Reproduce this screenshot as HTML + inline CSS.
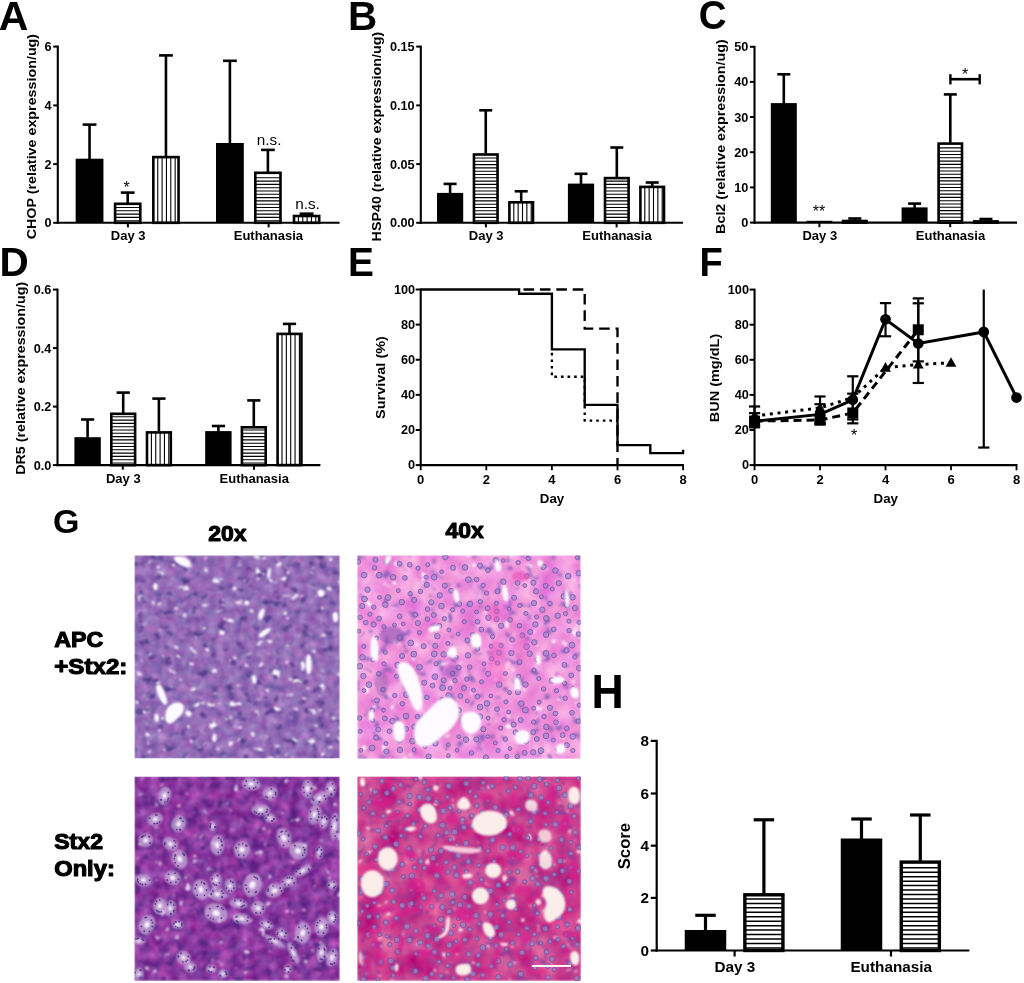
<!DOCTYPE html>
<html lang="en"><head><meta charset="utf-8"><title>Figure</title>
<style>html,body{margin:0;padding:0;background:#fff}body{width:1024px;height:983px;overflow:hidden}svg{display:block;font-family:"Liberation Sans", Arial, Helvetica, sans-serif;fill:#000}</style></head><body>
<svg width="1024" height="983" viewBox="0 0 1024 983">
<rect width="1024" height="983" fill="#fff"/>
<text transform="translate(-1.30,29.50) scale(1.0,1)" font-size="41" font-weight="bold">A</text>
<text transform="translate(347.90,29.70) scale(1.0,1)" font-size="40.5" font-weight="bold">B</text>
<text transform="translate(698.70,29.40) scale(0.94,1)" font-size="41" font-weight="bold">C</text>
<text transform="translate(-0.50,276.00) scale(1.0,1)" font-size="40.5" font-weight="bold">D</text>
<text transform="translate(348.10,276.00) scale(0.96,1)" font-size="40.5" font-weight="bold">E</text>
<text transform="translate(699.40,276.00) scale(0.94,1)" font-size="40.5" font-weight="bold">F</text>
<text transform="translate(53.00,532.60) scale(1.0,1)" font-size="34" font-weight="bold">G</text>
<text transform="translate(591.50,708.00) scale(0.94,1)" font-size="47.5" font-weight="bold">H</text>
<line x1="89.55" y1="159.20" x2="89.55" y2="124.60" stroke="#000" stroke-width="2.6" />
<line x1="82.65" y1="124.60" x2="96.45" y2="124.60" stroke="#000" stroke-width="2.6" />
<line x1="127.70" y1="203.00" x2="127.70" y2="192.60" stroke="#000" stroke-width="2.6" />
<line x1="120.80" y1="192.60" x2="134.60" y2="192.60" stroke="#000" stroke-width="2.6" />
<line x1="165.95" y1="156.30" x2="165.95" y2="55.40" stroke="#000" stroke-width="2.6" />
<line x1="159.05" y1="55.40" x2="172.85" y2="55.40" stroke="#000" stroke-width="2.6" />
<line x1="229.90" y1="143.50" x2="229.90" y2="60.80" stroke="#000" stroke-width="2.6" />
<line x1="223.00" y1="60.80" x2="236.80" y2="60.80" stroke="#000" stroke-width="2.6" />
<line x1="267.90" y1="172.00" x2="267.90" y2="149.90" stroke="#000" stroke-width="2.6" />
<line x1="261.00" y1="149.90" x2="274.80" y2="149.90" stroke="#000" stroke-width="2.6" />
<line x1="306.60" y1="215.20" x2="306.60" y2="213.70" stroke="#000" stroke-width="2.6" />
<line x1="299.70" y1="213.70" x2="313.50" y2="213.70" stroke="#000" stroke-width="2.6" />
<rect x="75.65" y="158.70" width="27.80" height="64.10" fill="#000"/>
<rect x="115.10" y="203.80" width="25.20" height="19.00" fill="#fff" stroke="#000" stroke-width="2.6"/>
<path d="M115.10,220.70H140.30M115.10,217.40H140.30M115.10,214.10H140.30M115.10,210.80H140.30M115.10,207.50H140.30" stroke="#000" stroke-width="1.1" fill="none"/>
<rect x="153.35" y="157.10" width="25.20" height="65.70" fill="#fff" stroke="#000" stroke-width="2.6"/>
<path d="M157.75,157.10V222.80M162.10,157.10V222.80M166.45,157.10V222.80M170.80,157.10V222.80M175.15,157.10V222.80" stroke="#000" stroke-width="1.1" fill="none"/>
<rect x="216.00" y="143.00" width="27.80" height="79.80" fill="#000"/>
<rect x="255.30" y="172.80" width="25.20" height="50.00" fill="#fff" stroke="#000" stroke-width="2.6"/>
<path d="M255.30,220.70H280.50M255.30,217.40H280.50M255.30,214.10H280.50M255.30,210.80H280.50M255.30,207.50H280.50M255.30,204.20H280.50M255.30,200.90H280.50M255.30,197.60H280.50M255.30,194.30H280.50M255.30,191.00H280.50M255.30,187.70H280.50M255.30,184.40H280.50M255.30,181.10H280.50M255.30,177.80H280.50" stroke="#000" stroke-width="1.1" fill="none"/>
<rect x="294.00" y="216.00" width="25.20" height="6.80" fill="#fff" stroke="#000" stroke-width="2.6"/>
<path d="M298.40,216.00V222.80M302.75,216.00V222.80M307.10,216.00V222.80M311.45,216.00V222.80M315.80,216.00V222.80" stroke="#000" stroke-width="1.1" fill="none"/>
<line x1="57.80" y1="45.60" x2="57.80" y2="223.85" stroke="#000" stroke-width="2.1" />
<line x1="56.75" y1="222.80" x2="339.60" y2="222.80" stroke="#000" stroke-width="2.1" />
<line x1="53.20" y1="222.80" x2="57.80" y2="222.80" stroke="#000" stroke-width="2.0" />
<text x="51.60" y="227.37" font-size="12.7" font-weight="bold" text-anchor="end" >0</text>
<line x1="53.20" y1="164.10" x2="57.80" y2="164.10" stroke="#000" stroke-width="2.0" />
<text x="51.60" y="168.67" font-size="12.7" font-weight="bold" text-anchor="end" >2</text>
<line x1="53.20" y1="105.40" x2="57.80" y2="105.40" stroke="#000" stroke-width="2.0" />
<text x="51.60" y="109.97" font-size="12.7" font-weight="bold" text-anchor="end" >4</text>
<line x1="53.20" y1="46.60" x2="57.80" y2="46.60" stroke="#000" stroke-width="2.0" />
<text x="51.60" y="51.17" font-size="12.7" font-weight="bold" text-anchor="end" >6</text>
<line x1="127.90" y1="222.80" x2="127.90" y2="227.40" stroke="#000" stroke-width="2.0" />
<line x1="268.60" y1="222.80" x2="268.60" y2="227.40" stroke="#000" stroke-width="2.0" />
<text x="128.20" y="240.00" font-size="13" font-weight="bold" text-anchor="middle" >Day 3</text>
<text x="268.40" y="240.00" font-size="13" font-weight="bold" text-anchor="middle" >Euthanasia</text>
<text transform="translate(35.80,136.60) rotate(-90) scale(1.06,1)" font-size="13.49" font-weight="bold" text-anchor="middle">CHOP (relative expression/ug)</text>
<text x="126.60" y="192.50" font-size="16" font-weight="normal" text-anchor="middle" >*</text>
<text x="269.20" y="144.50" font-size="15.3" font-weight="normal" text-anchor="middle" >n.s.</text>
<text x="307.50" y="208.70" font-size="15.3" font-weight="normal" text-anchor="middle" >n.s.</text>
<line x1="450.10" y1="193.40" x2="450.10" y2="183.90" stroke="#000" stroke-width="2.6" />
<line x1="443.60" y1="183.90" x2="456.60" y2="183.90" stroke="#000" stroke-width="2.6" />
<line x1="485.75" y1="153.70" x2="485.75" y2="110.30" stroke="#000" stroke-width="2.6" />
<line x1="479.25" y1="110.30" x2="492.25" y2="110.30" stroke="#000" stroke-width="2.6" />
<line x1="521.20" y1="201.50" x2="521.20" y2="191.30" stroke="#000" stroke-width="2.6" />
<line x1="514.70" y1="191.30" x2="527.70" y2="191.30" stroke="#000" stroke-width="2.6" />
<line x1="581.00" y1="184.10" x2="581.00" y2="173.80" stroke="#000" stroke-width="2.6" />
<line x1="574.50" y1="173.80" x2="587.50" y2="173.80" stroke="#000" stroke-width="2.6" />
<line x1="616.80" y1="177.30" x2="616.80" y2="147.50" stroke="#000" stroke-width="2.6" />
<line x1="610.30" y1="147.50" x2="623.30" y2="147.50" stroke="#000" stroke-width="2.6" />
<line x1="652.20" y1="186.10" x2="652.20" y2="182.50" stroke="#000" stroke-width="2.6" />
<line x1="645.70" y1="182.50" x2="658.70" y2="182.50" stroke="#000" stroke-width="2.6" />
<rect x="437.00" y="192.90" width="26.20" height="29.90" fill="#000"/>
<rect x="473.95" y="154.50" width="23.60" height="68.30" fill="#fff" stroke="#000" stroke-width="2.6"/>
<path d="M473.95,220.70H497.55M473.95,217.40H497.55M473.95,214.10H497.55M473.95,210.80H497.55M473.95,207.50H497.55M473.95,204.20H497.55M473.95,200.90H497.55M473.95,197.60H497.55M473.95,194.30H497.55M473.95,191.00H497.55M473.95,187.70H497.55M473.95,184.40H497.55M473.95,181.10H497.55M473.95,177.80H497.55M473.95,174.50H497.55M473.95,171.20H497.55M473.95,167.90H497.55M473.95,164.60H497.55M473.95,161.30H497.55M473.95,158.00H497.55" stroke="#000" stroke-width="1.1" fill="none"/>
<rect x="509.40" y="202.30" width="23.60" height="20.50" fill="#fff" stroke="#000" stroke-width="2.6"/>
<path d="M513.80,202.30V222.80M518.15,202.30V222.80M522.50,202.30V222.80M526.85,202.30V222.80M531.20,202.30V222.80" stroke="#000" stroke-width="1.1" fill="none"/>
<rect x="567.90" y="183.60" width="26.20" height="39.20" fill="#000"/>
<rect x="605.00" y="178.10" width="23.60" height="44.70" fill="#fff" stroke="#000" stroke-width="2.6"/>
<path d="M605.00,220.70H628.60M605.00,217.40H628.60M605.00,214.10H628.60M605.00,210.80H628.60M605.00,207.50H628.60M605.00,204.20H628.60M605.00,200.90H628.60M605.00,197.60H628.60M605.00,194.30H628.60M605.00,191.00H628.60M605.00,187.70H628.60M605.00,184.40H628.60M605.00,181.10H628.60" stroke="#000" stroke-width="1.1" fill="none"/>
<rect x="640.40" y="186.90" width="23.60" height="35.90" fill="#fff" stroke="#000" stroke-width="2.6"/>
<path d="M644.80,186.90V222.80M649.15,186.90V222.80M653.50,186.90V222.80M657.85,186.90V222.80M662.20,186.90V222.80" stroke="#000" stroke-width="1.1" fill="none"/>
<line x1="420.80" y1="45.60" x2="420.80" y2="223.85" stroke="#000" stroke-width="2.1" />
<line x1="419.75" y1="222.80" x2="683.00" y2="222.80" stroke="#000" stroke-width="2.1" />
<line x1="416.20" y1="222.80" x2="420.80" y2="222.80" stroke="#000" stroke-width="2.0" />
<text x="414.60" y="227.37" font-size="12.7" font-weight="bold" text-anchor="end" >0.00</text>
<line x1="416.20" y1="164.10" x2="420.80" y2="164.10" stroke="#000" stroke-width="2.0" />
<text x="414.60" y="168.67" font-size="12.7" font-weight="bold" text-anchor="end" >0.05</text>
<line x1="416.20" y1="105.40" x2="420.80" y2="105.40" stroke="#000" stroke-width="2.0" />
<text x="414.60" y="109.97" font-size="12.7" font-weight="bold" text-anchor="end" >0.10</text>
<line x1="416.20" y1="46.60" x2="420.80" y2="46.60" stroke="#000" stroke-width="2.0" />
<text x="414.60" y="51.17" font-size="12.7" font-weight="bold" text-anchor="end" >0.15</text>
<line x1="485.90" y1="222.80" x2="485.90" y2="227.40" stroke="#000" stroke-width="2.0" />
<line x1="616.60" y1="222.80" x2="616.60" y2="227.40" stroke="#000" stroke-width="2.0" />
<text x="486.20" y="240.00" font-size="13" font-weight="bold" text-anchor="middle" >Day 3</text>
<text x="617.00" y="240.00" font-size="13" font-weight="bold" text-anchor="middle" >Euthanasia</text>
<text transform="translate(381.00,136.60) rotate(-90) scale(1.06,1)" font-size="13.49" font-weight="bold" text-anchor="middle">HSP40 (relative expression/ug)</text>
<line x1="783.80" y1="103.60" x2="783.80" y2="74.30" stroke="#000" stroke-width="2.6" />
<line x1="777.30" y1="74.30" x2="790.30" y2="74.30" stroke="#000" stroke-width="2.6" />
<line x1="854.80" y1="220.20" x2="854.80" y2="218.50" stroke="#000" stroke-width="2.6" />
<line x1="848.30" y1="218.50" x2="861.30" y2="218.50" stroke="#000" stroke-width="2.6" />
<line x1="914.60" y1="207.90" x2="914.60" y2="203.60" stroke="#000" stroke-width="2.6" />
<line x1="908.10" y1="203.60" x2="921.10" y2="203.60" stroke="#000" stroke-width="2.6" />
<line x1="950.30" y1="142.80" x2="950.30" y2="94.40" stroke="#000" stroke-width="2.6" />
<line x1="943.80" y1="94.40" x2="956.80" y2="94.40" stroke="#000" stroke-width="2.6" />
<line x1="985.90" y1="220.60" x2="985.90" y2="219.00" stroke="#000" stroke-width="2.6" />
<line x1="979.40" y1="219.00" x2="992.40" y2="219.00" stroke="#000" stroke-width="2.6" />
<rect x="770.80" y="103.10" width="26.00" height="119.50" fill="#000"/>
<line x1="806.50" y1="221.70" x2="832.50" y2="221.70" stroke="#000" stroke-width="1.8" />
<rect x="843.10" y="221.00" width="23.40" height="1.60" fill="#fff" stroke="#000" stroke-width="2.6"/>
<path d="M847.50,221.00V222.60M851.85,221.00V222.60M856.20,221.00V222.60M860.55,221.00V222.60M864.90,221.00V222.60" stroke="#000" stroke-width="1.1" fill="none"/>
<rect x="901.60" y="207.40" width="26.00" height="15.20" fill="#000"/>
<rect x="938.60" y="143.60" width="23.40" height="79.00" fill="#fff" stroke="#000" stroke-width="2.6"/>
<path d="M938.60,220.50H962.00M938.60,217.20H962.00M938.60,213.90H962.00M938.60,210.60H962.00M938.60,207.30H962.00M938.60,204.00H962.00M938.60,200.70H962.00M938.60,197.40H962.00M938.60,194.10H962.00M938.60,190.80H962.00M938.60,187.50H962.00M938.60,184.20H962.00M938.60,180.90H962.00M938.60,177.60H962.00M938.60,174.30H962.00M938.60,171.00H962.00M938.60,167.70H962.00M938.60,164.40H962.00M938.60,161.10H962.00M938.60,157.80H962.00M938.60,154.50H962.00M938.60,151.20H962.00M938.60,147.90H962.00" stroke="#000" stroke-width="1.1" fill="none"/>
<rect x="974.20" y="221.40" width="23.40" height="1.20" fill="#fff" stroke="#000" stroke-width="2.6"/>
<path d="M978.60,221.40V222.60M982.95,221.40V222.60M987.30,221.40V222.60M991.65,221.40V222.60M996.00,221.40V222.60" stroke="#000" stroke-width="1.1" fill="none"/>
<line x1="754.50" y1="45.80" x2="754.50" y2="223.65" stroke="#000" stroke-width="2.1" />
<line x1="753.45" y1="222.60" x2="1017.00" y2="222.60" stroke="#000" stroke-width="2.1" />
<line x1="749.90" y1="222.60" x2="754.50" y2="222.60" stroke="#000" stroke-width="2.0" />
<text x="748.30" y="227.17" font-size="12.7" font-weight="bold" text-anchor="end" >0</text>
<line x1="749.90" y1="187.40" x2="754.50" y2="187.40" stroke="#000" stroke-width="2.0" />
<text x="748.30" y="191.97" font-size="12.7" font-weight="bold" text-anchor="end" >10</text>
<line x1="749.90" y1="152.20" x2="754.50" y2="152.20" stroke="#000" stroke-width="2.0" />
<text x="748.30" y="156.77" font-size="12.7" font-weight="bold" text-anchor="end" >20</text>
<line x1="749.90" y1="117.00" x2="754.50" y2="117.00" stroke="#000" stroke-width="2.0" />
<text x="748.30" y="121.57" font-size="12.7" font-weight="bold" text-anchor="end" >30</text>
<line x1="749.90" y1="81.90" x2="754.50" y2="81.90" stroke="#000" stroke-width="2.0" />
<text x="748.30" y="86.47" font-size="12.7" font-weight="bold" text-anchor="end" >40</text>
<line x1="749.90" y1="46.80" x2="754.50" y2="46.80" stroke="#000" stroke-width="2.0" />
<text x="748.30" y="51.37" font-size="12.7" font-weight="bold" text-anchor="end" >50</text>
<line x1="819.40" y1="222.60" x2="819.40" y2="227.20" stroke="#000" stroke-width="2.0" />
<line x1="950.20" y1="222.60" x2="950.20" y2="227.20" stroke="#000" stroke-width="2.0" />
<text x="819.80" y="240.00" font-size="13" font-weight="bold" text-anchor="middle" >Day 3</text>
<text x="950.50" y="240.00" font-size="13" font-weight="bold" text-anchor="middle" >Euthanasia</text>
<text transform="translate(725.00,136.60) rotate(-90) scale(1.06,1)" font-size="13.49" font-weight="bold" text-anchor="middle">Bcl2 (relative expression/ug)</text>
<text x="819.00" y="216.50" font-size="16" font-weight="normal" text-anchor="middle" >**</text>
<line x1="950.40" y1="79.20" x2="979.70" y2="79.20" stroke="#000" stroke-width="2.6" />
<line x1="950.40" y1="74.20" x2="950.40" y2="84.40" stroke="#000" stroke-width="2.4" />
<line x1="979.70" y1="74.20" x2="979.70" y2="84.40" stroke="#000" stroke-width="2.4" />
<text x="965.00" y="79.50" font-size="16" font-weight="normal" text-anchor="middle" >*</text>
<line x1="87.60" y1="437.70" x2="87.60" y2="419.50" stroke="#000" stroke-width="2.6" />
<line x1="81.00" y1="419.50" x2="94.20" y2="419.50" stroke="#000" stroke-width="2.6" />
<line x1="123.20" y1="413.00" x2="123.20" y2="392.60" stroke="#000" stroke-width="2.6" />
<line x1="116.60" y1="392.60" x2="129.80" y2="392.60" stroke="#000" stroke-width="2.6" />
<line x1="158.90" y1="431.60" x2="158.90" y2="398.60" stroke="#000" stroke-width="2.6" />
<line x1="152.30" y1="398.60" x2="165.50" y2="398.60" stroke="#000" stroke-width="2.6" />
<line x1="218.40" y1="431.60" x2="218.40" y2="426.00" stroke="#000" stroke-width="2.6" />
<line x1="211.80" y1="426.00" x2="225.00" y2="426.00" stroke="#000" stroke-width="2.6" />
<line x1="253.80" y1="426.50" x2="253.80" y2="400.40" stroke="#000" stroke-width="2.6" />
<line x1="247.20" y1="400.40" x2="260.40" y2="400.40" stroke="#000" stroke-width="2.6" />
<line x1="289.50" y1="333.10" x2="289.50" y2="323.90" stroke="#000" stroke-width="2.6" />
<line x1="282.90" y1="323.90" x2="296.10" y2="323.90" stroke="#000" stroke-width="2.6" />
<rect x="74.40" y="437.20" width="26.40" height="27.90" fill="#000"/>
<rect x="111.30" y="413.80" width="23.80" height="51.30" fill="#fff" stroke="#000" stroke-width="2.6"/>
<path d="M111.30,463.00H135.10M111.30,459.70H135.10M111.30,456.40H135.10M111.30,453.10H135.10M111.30,449.80H135.10M111.30,446.50H135.10M111.30,443.20H135.10M111.30,439.90H135.10M111.30,436.60H135.10M111.30,433.30H135.10M111.30,430.00H135.10M111.30,426.70H135.10M111.30,423.40H135.10M111.30,420.10H135.10M111.30,416.80H135.10" stroke="#000" stroke-width="1.1" fill="none"/>
<rect x="147.00" y="432.40" width="23.80" height="32.70" fill="#fff" stroke="#000" stroke-width="2.6"/>
<path d="M151.40,432.40V465.10M155.75,432.40V465.10M160.10,432.40V465.10M164.45,432.40V465.10M168.80,432.40V465.10" stroke="#000" stroke-width="1.1" fill="none"/>
<rect x="205.20" y="431.10" width="26.40" height="34.00" fill="#000"/>
<rect x="241.90" y="427.30" width="23.80" height="37.80" fill="#fff" stroke="#000" stroke-width="2.6"/>
<path d="M241.90,463.00H265.70M241.90,459.70H265.70M241.90,456.40H265.70M241.90,453.10H265.70M241.90,449.80H265.70M241.90,446.50H265.70M241.90,443.20H265.70M241.90,439.90H265.70M241.90,436.60H265.70M241.90,433.30H265.70M241.90,430.00H265.70" stroke="#000" stroke-width="1.1" fill="none"/>
<rect x="277.60" y="333.90" width="23.80" height="131.20" fill="#fff" stroke="#000" stroke-width="2.6"/>
<path d="M282.00,333.90V465.10M286.35,333.90V465.10M290.70,333.90V465.10M295.05,333.90V465.10M299.40,333.90V465.10" stroke="#000" stroke-width="1.1" fill="none"/>
<line x1="57.50" y1="288.60" x2="57.50" y2="466.15" stroke="#000" stroke-width="2.1" />
<line x1="56.45" y1="465.10" x2="320.40" y2="465.10" stroke="#000" stroke-width="2.1" />
<line x1="52.90" y1="465.10" x2="57.50" y2="465.10" stroke="#000" stroke-width="2.0" />
<text x="51.30" y="469.67" font-size="12.7" font-weight="bold" text-anchor="end" >0.0</text>
<line x1="52.90" y1="406.60" x2="57.50" y2="406.60" stroke="#000" stroke-width="2.0" />
<text x="51.30" y="411.17" font-size="12.7" font-weight="bold" text-anchor="end" >0.2</text>
<line x1="52.90" y1="348.10" x2="57.50" y2="348.10" stroke="#000" stroke-width="2.0" />
<text x="51.30" y="352.67" font-size="12.7" font-weight="bold" text-anchor="end" >0.4</text>
<line x1="52.90" y1="289.60" x2="57.50" y2="289.60" stroke="#000" stroke-width="2.0" />
<text x="51.30" y="294.17" font-size="12.7" font-weight="bold" text-anchor="end" >0.6</text>
<line x1="122.80" y1="465.10" x2="122.80" y2="469.70" stroke="#000" stroke-width="2.0" />
<line x1="254.00" y1="465.10" x2="254.00" y2="469.70" stroke="#000" stroke-width="2.0" />
<text x="123.30" y="482.60" font-size="13" font-weight="bold" text-anchor="middle" >Day 3</text>
<text x="254.20" y="482.60" font-size="13" font-weight="bold" text-anchor="middle" >Euthanasia</text>
<text transform="translate(25.00,378.30) rotate(-90) scale(1.06,1)" font-size="13.49" font-weight="bold" text-anchor="middle">DR5 (relative expression/ug)</text>
<path d="M551.90,349.20 L551.90,376.77 L584.70,376.77 L584.70,420.67 L617.50,420.67" fill="none" stroke="#000" stroke-width="2.35" stroke-dasharray="2.6 4.0" stroke-dashoffset="3"/>
<path d="M519.10,289.50 L584.70,289.50 L584.70,328.66 L617.50,328.66 L617.50,465.10" fill="none" stroke="#000" stroke-width="2.35" stroke-dasharray="10.6 5.8" stroke-dashoffset="12"/>
<path d="M420.70,289.50 L519.10,289.50 L519.10,293.71 L551.90,293.71 L551.90,349.38 L584.70,349.38 L584.70,404.87 L617.50,404.87 L617.50,445.08 L650.30,445.08 L650.30,453.16 L683.10,453.16 L683.10,449.65" fill="none" stroke="#000" stroke-width="2.35" stroke-linejoin="miter"/>
<line x1="420.70" y1="288.60" x2="420.70" y2="466.15" stroke="#000" stroke-width="2.1" />
<line x1="419.65" y1="465.10" x2="684.00" y2="465.10" stroke="#000" stroke-width="2.1" />
<line x1="415.70" y1="465.10" x2="420.70" y2="465.10" stroke="#000" stroke-width="2.0" />
<text x="415.10" y="469.40" font-size="12.7" font-weight="bold" text-anchor="end" >0</text>
<line x1="415.70" y1="429.98" x2="420.70" y2="429.98" stroke="#000" stroke-width="2.0" />
<text x="415.10" y="434.28" font-size="12.7" font-weight="bold" text-anchor="end" >20</text>
<line x1="415.70" y1="394.86" x2="420.70" y2="394.86" stroke="#000" stroke-width="2.0" />
<text x="415.10" y="399.16" font-size="12.7" font-weight="bold" text-anchor="end" >40</text>
<line x1="415.70" y1="359.74" x2="420.70" y2="359.74" stroke="#000" stroke-width="2.0" />
<text x="415.10" y="364.04" font-size="12.7" font-weight="bold" text-anchor="end" >60</text>
<line x1="415.70" y1="324.62" x2="420.70" y2="324.62" stroke="#000" stroke-width="2.0" />
<text x="415.10" y="328.92" font-size="12.7" font-weight="bold" text-anchor="end" >80</text>
<line x1="415.70" y1="289.50" x2="420.70" y2="289.50" stroke="#000" stroke-width="2.0" />
<text x="415.10" y="293.80" font-size="12.7" font-weight="bold" text-anchor="end" >100</text>
<line x1="420.70" y1="465.10" x2="420.70" y2="470.30" stroke="#000" stroke-width="1.8" />
<text x="420.70" y="483.80" font-size="13" font-weight="bold" text-anchor="middle" >0</text>
<line x1="486.30" y1="465.10" x2="486.30" y2="470.30" stroke="#000" stroke-width="1.8" />
<text x="486.30" y="483.80" font-size="13" font-weight="bold" text-anchor="middle" >2</text>
<line x1="551.90" y1="465.10" x2="551.90" y2="470.30" stroke="#000" stroke-width="1.8" />
<text x="551.90" y="483.80" font-size="13" font-weight="bold" text-anchor="middle" >4</text>
<line x1="617.50" y1="465.10" x2="617.50" y2="470.30" stroke="#000" stroke-width="1.8" />
<text x="617.50" y="483.80" font-size="13" font-weight="bold" text-anchor="middle" >6</text>
<line x1="683.10" y1="465.10" x2="683.10" y2="470.30" stroke="#000" stroke-width="1.8" />
<text x="683.10" y="483.80" font-size="13" font-weight="bold" text-anchor="middle" >8</text>
<text x="552.00" y="503.20" font-size="13.3" font-weight="bold" text-anchor="middle" >Day</text>
<text transform="translate(384.70,377.50) rotate(-90) scale(1.06,1)" font-size="13.68" font-weight="bold" text-anchor="middle">Survival (%)</text>
<line x1="754.55" y1="427.37" x2="754.55" y2="406.48" stroke="#000" stroke-width="2.2" />
<line x1="748.95" y1="427.37" x2="760.15" y2="427.37" stroke="#000" stroke-width="2.2" />
<line x1="748.95" y1="406.48" x2="760.15" y2="406.48" stroke="#000" stroke-width="2.2" />
<line x1="754.55" y1="425.61" x2="754.55" y2="413.15" stroke="#000" stroke-width="2.2" />
<line x1="748.95" y1="425.61" x2="760.15" y2="425.61" stroke="#000" stroke-width="2.2" />
<line x1="748.95" y1="413.15" x2="760.15" y2="413.15" stroke="#000" stroke-width="2.2" />
<line x1="820.04" y1="424.38" x2="820.04" y2="396.48" stroke="#000" stroke-width="2.2" />
<line x1="814.44" y1="424.38" x2="825.64" y2="424.38" stroke="#000" stroke-width="2.2" />
<line x1="814.44" y1="396.48" x2="825.64" y2="396.48" stroke="#000" stroke-width="2.2" />
<line x1="820.04" y1="422.98" x2="820.04" y2="404.20" stroke="#000" stroke-width="2.2" />
<line x1="814.44" y1="422.98" x2="825.64" y2="422.98" stroke="#000" stroke-width="2.2" />
<line x1="814.44" y1="404.20" x2="825.64" y2="404.20" stroke="#000" stroke-width="2.2" />
<line x1="852.78" y1="423.33" x2="852.78" y2="376.30" stroke="#000" stroke-width="2.2" />
<line x1="847.18" y1="423.33" x2="858.38" y2="423.33" stroke="#000" stroke-width="2.2" />
<line x1="847.18" y1="376.30" x2="858.38" y2="376.30" stroke="#000" stroke-width="2.2" />
<line x1="852.78" y1="419.47" x2="852.78" y2="393.67" stroke="#000" stroke-width="2.2" />
<line x1="847.18" y1="419.47" x2="858.38" y2="419.47" stroke="#000" stroke-width="2.2" />
<line x1="847.18" y1="393.67" x2="858.38" y2="393.67" stroke="#000" stroke-width="2.2" />
<line x1="885.52" y1="336.28" x2="885.52" y2="303.11" stroke="#000" stroke-width="2.2" />
<line x1="879.92" y1="336.28" x2="891.12" y2="336.28" stroke="#000" stroke-width="2.2" />
<line x1="879.92" y1="303.11" x2="891.12" y2="303.11" stroke="#000" stroke-width="2.2" />
<line x1="918.27" y1="361.38" x2="918.27" y2="298.38" stroke="#000" stroke-width="2.2" />
<line x1="912.67" y1="361.38" x2="923.87" y2="361.38" stroke="#000" stroke-width="2.2" />
<line x1="912.67" y1="298.38" x2="923.87" y2="298.38" stroke="#000" stroke-width="2.2" />
<line x1="918.27" y1="382.97" x2="918.27" y2="303.29" stroke="#000" stroke-width="2.2" />
<line x1="912.67" y1="382.97" x2="923.87" y2="382.97" stroke="#000" stroke-width="2.2" />
<line x1="912.67" y1="303.29" x2="923.87" y2="303.29" stroke="#000" stroke-width="2.2" />
<line x1="983.76" y1="447.55" x2="983.76" y2="289.60" stroke="#000" stroke-width="2.2" />
<line x1="978.16" y1="447.55" x2="989.36" y2="447.55" stroke="#000" stroke-width="2.2" />
<path d="M754.55,415.96 L820.04,407.89 L852.78,397.53 L885.52,367.70 L918.27,364.54 L951.01,362.78" fill="none" stroke="#000" stroke-width="3.0" stroke-dasharray="3 4.7"/>
<path d="M754.55,421.05 L820.04,420.00 L852.78,412.98 L918.27,329.79" fill="none" stroke="#000" stroke-width="3.0" stroke-dasharray="8 5"/>
<path d="M754.55,421.23 L820.04,414.38 L852.78,399.81 L885.52,319.26 L918.27,343.48 L983.76,331.90 L1016.50,397.53" fill="none" stroke="#000" stroke-width="3.0"/>
<path d="M754.55,410.36 L759.95,419.96 L749.15,419.96Z" fill="#000"/>
<path d="M820.04,402.29 L825.44,411.89 L814.64,411.89Z" fill="#000"/>
<path d="M852.78,391.93 L858.18,401.53 L847.38,401.53Z" fill="#000"/>
<path d="M885.52,362.10 L890.92,371.70 L880.12,371.70Z" fill="#000"/>
<path d="M918.27,358.94 L923.67,368.54 L912.87,368.54Z" fill="#000"/>
<path d="M951.01,357.18 L956.41,366.78 L945.61,366.78Z" fill="#000"/>
<rect x="749.05" y="415.55" width="11" height="11" fill="#000"/>
<rect x="814.54" y="414.50" width="11" height="11" fill="#000"/>
<rect x="847.28" y="407.48" width="11" height="11" fill="#000"/>
<rect x="912.77" y="324.29" width="11" height="11" fill="#000"/>
<circle cx="754.55" cy="421.23" r="5.35" fill="#000"/>
<circle cx="820.04" cy="414.38" r="5.35" fill="#000"/>
<circle cx="852.78" cy="399.81" r="5.35" fill="#000"/>
<circle cx="885.52" cy="319.26" r="5.35" fill="#000"/>
<circle cx="918.27" cy="343.48" r="5.35" fill="#000"/>
<circle cx="983.76" cy="331.90" r="5.35" fill="#000"/>
<circle cx="1016.50" cy="397.53" r="5.35" fill="#000"/>
<line x1="754.55" y1="288.70" x2="754.55" y2="466.15" stroke="#000" stroke-width="2.1" />
<line x1="753.50" y1="465.10" x2="1017.40" y2="465.10" stroke="#000" stroke-width="2.1" />
<line x1="749.55" y1="465.10" x2="754.55" y2="465.10" stroke="#000" stroke-width="2.0" />
<text x="748.95" y="469.40" font-size="12.7" font-weight="bold" text-anchor="end" >0</text>
<line x1="749.55" y1="430.00" x2="754.55" y2="430.00" stroke="#000" stroke-width="2.0" />
<text x="748.95" y="434.30" font-size="12.7" font-weight="bold" text-anchor="end" >20</text>
<line x1="749.55" y1="394.90" x2="754.55" y2="394.90" stroke="#000" stroke-width="2.0" />
<text x="748.95" y="399.20" font-size="12.7" font-weight="bold" text-anchor="end" >40</text>
<line x1="749.55" y1="359.80" x2="754.55" y2="359.80" stroke="#000" stroke-width="2.0" />
<text x="748.95" y="364.10" font-size="12.7" font-weight="bold" text-anchor="end" >60</text>
<line x1="749.55" y1="324.70" x2="754.55" y2="324.70" stroke="#000" stroke-width="2.0" />
<text x="748.95" y="329.00" font-size="12.7" font-weight="bold" text-anchor="end" >80</text>
<line x1="749.55" y1="289.60" x2="754.55" y2="289.60" stroke="#000" stroke-width="2.0" />
<text x="748.95" y="293.90" font-size="12.7" font-weight="bold" text-anchor="end" >100</text>
<line x1="754.55" y1="465.10" x2="754.55" y2="470.30" stroke="#000" stroke-width="1.8" />
<text x="754.55" y="484.20" font-size="13" font-weight="bold" text-anchor="middle" >0</text>
<line x1="820.04" y1="465.10" x2="820.04" y2="470.30" stroke="#000" stroke-width="1.8" />
<text x="820.04" y="484.20" font-size="13" font-weight="bold" text-anchor="middle" >2</text>
<line x1="885.52" y1="465.10" x2="885.52" y2="470.30" stroke="#000" stroke-width="1.8" />
<text x="885.52" y="484.20" font-size="13" font-weight="bold" text-anchor="middle" >4</text>
<line x1="951.01" y1="465.10" x2="951.01" y2="470.30" stroke="#000" stroke-width="1.8" />
<text x="951.01" y="484.20" font-size="13" font-weight="bold" text-anchor="middle" >6</text>
<line x1="1016.50" y1="465.10" x2="1016.50" y2="470.30" stroke="#000" stroke-width="1.8" />
<text x="1016.50" y="484.20" font-size="13" font-weight="bold" text-anchor="middle" >8</text>
<text x="885.80" y="502.50" font-size="13.3" font-weight="bold" text-anchor="middle" >Day</text>
<text transform="translate(718.50,378.00) rotate(-90) scale(1.06,1)" font-size="13.68" font-weight="bold" text-anchor="middle">BUN (mg/dL)</text>
<text x="854.00" y="440.60" font-size="16" font-weight="normal" text-anchor="middle" >*</text>
<defs>
<filter id="t1" x="0" y="0" width="1" height="1" color-interpolation-filters="sRGB"><feTurbulence type="fractalNoise" baseFrequency="0.12" numOctaves="3" seed="3" result="n1"/><feColorMatrix in="n1" type="matrix" values="0.314 0.196 0 0 0.333 0.353 -0.039 0 0 0.275 0.235 0.039 0 0 0.584 0 0 0 0 1" result="b"/><feTurbulence type="fractalNoise" baseFrequency="0.11 0.13" numOctaves="2" seed="14" result="n2"/><feColorMatrix in="n2" type="matrix" values="0 0 0 0 0.329 0 0 0 0 0.235 0 0 0 0 0.549 6 0 0 0 -3.540" result="d"/><feColorMatrix in="n2" type="matrix" values="0 0 0 0 0.980 0 0 0 0 0.965 0 0 0 0 0.988 0 12 0 0 -8.100" result="w"/><feMerge result="m"><feMergeNode in="b"/><feMergeNode in="d"/><feMergeNode in="w"/></feMerge><feGaussianBlur in="m" stdDeviation="0.9" result="m"/><feComposite in="m" in2="SourceGraphic" operator="in"/></filter>
<filter id="t2" x="0" y="0" width="1" height="1" color-interpolation-filters="sRGB"><feTurbulence type="fractalNoise" baseFrequency="0.05" numOctaves="3" seed="8" result="n1"/><feColorMatrix in="n1" type="matrix" values="0.118 0.078 0 0 0.847 0.392 0.196 0 0 0.294 0.157 -0.039 0 0 0.808 0 0 0 0 1" result="b"/><feTurbulence type="fractalNoise" baseFrequency="0.105" numOctaves="2" seed="19" result="n2"/><feColorMatrix in="n2" type="matrix" values="0 0 0 0 0.588 0 0 0 0 0.392 0 0 0 0 0.745 6 0 0 0 -3.660" result="d"/><feColorMatrix in="n2" type="matrix" values="0 0 0 0 1.000 0 0 0 0 0.980 0 0 0 0 1.000 0 10 0 0 -7.000" result="w"/><feMerge result="m"><feMergeNode in="b"/><feMergeNode in="d"/><feMergeNode in="w"/></feMerge><feGaussianBlur in="m" stdDeviation="1.0" result="m"/><feComposite in="m" in2="SourceGraphic" operator="in"/></filter>
<filter id="t3" x="0" y="0" width="1" height="1" color-interpolation-filters="sRGB"><feTurbulence type="fractalNoise" baseFrequency="0.10" numOctaves="3" seed="5" result="n1"/><feColorMatrix in="n1" type="matrix" values="0.471 0.275 0 0 0.169 0.392 -0.039 0 0 0.051 0.353 0.039 0 0 0.431 0 0 0 0 1" result="b"/><feTurbulence type="fractalNoise" baseFrequency="0.12" numOctaves="2" seed="16" result="n2"/><feColorMatrix in="n2" type="matrix" values="0 0 0 0 0.337 0 0 0 0 0.149 0 0 0 0 0.510 6 0 0 0 -3.600" result="d"/><feColorMatrix in="n2" type="matrix" values="0 0 0 0 0.922 0 0 0 0 0.843 0 0 0 0 0.941 0 10 0 0 -7.000" result="w"/><feMerge result="m"><feMergeNode in="b"/><feMergeNode in="d"/><feMergeNode in="w"/></feMerge><feGaussianBlur in="m" stdDeviation="0.9" result="m"/><feComposite in="m" in2="SourceGraphic" operator="in"/></filter>
<filter id="t4" x="0" y="0" width="1" height="1" color-interpolation-filters="sRGB"><feTurbulence type="fractalNoise" baseFrequency="0.045" numOctaves="3" seed="12" result="n1"/><feColorMatrix in="n1" type="matrix" values="0.314 -0.078 0 0 0.678 0.510 0.314 0 0 -0.169 0.235 0.118 0 0 0.380 0 0 0 0 1" result="b"/><feTurbulence type="fractalNoise" baseFrequency="0.12" numOctaves="2" seed="23" result="n2"/><feColorMatrix in="n2" type="matrix" values="0 0 0 0 0.588 0 0 0 0 0.235 0 0 0 0 0.588 6 0 0 0 -3.600" result="d"/><feColorMatrix in="n2" type="matrix" values="0 0 0 0 1.000 0 0 0 0 0.922 0 0 0 0 0.922 0 10 0 0 -7.200" result="w"/><feMerge result="m"><feMergeNode in="b"/><feMergeNode in="d"/><feMergeNode in="w"/></feMerge><feGaussianBlur in="m" stdDeviation="1.0" result="m"/><feComposite in="m" in2="SourceGraphic" operator="in"/></filter>
<filter id="soft0" x="0" y="0" width="1" height="1"><feGaussianBlur stdDeviation="0.7"/></filter>
<filter id="soft" x="-0.2" y="-0.2" width="1.4" height="1.4"><feGaussianBlur stdDeviation="0.9"/></filter>
<filter id="soft2" x="-0.2" y="-0.2" width="1.4" height="1.4"><feGaussianBlur stdDeviation="1.6"/></filter>
<clipPath id="c1"><rect x="134.5" y="555.3" width="205.30" height="203.10"/></clipPath>
<clipPath id="c2"><rect x="357.2" y="555.3" width="223.50" height="203.60"/></clipPath>
<clipPath id="c3"><rect x="134.5" y="776.6" width="205.30" height="204.40"/></clipPath>
<clipPath id="c4"><rect x="357.2" y="776.5" width="223.80" height="204.50"/></clipPath>
</defs>
<rect x="134.5" y="555.3" width="205.30" height="203.10" fill="#888" filter="url(#t1)"/>
<rect x="357.2" y="555.3" width="223.50" height="203.60" fill="#888" filter="url(#t2)"/>
<rect x="134.5" y="776.6" width="205.30" height="204.40" fill="#888" filter="url(#t3)"/>
<rect x="357.2" y="776.5" width="223.80" height="204.50" fill="#888" filter="url(#t4)"/>
<g clip-path="url(#c1)" filter="url(#soft)">
<path d="M173.9,559.0Q172.7,556.4 178.0,556.2Q183.3,555.9 187.4,559.1Q191.5,562.3 190.9,565.2Q190.3,568.1 186.2,567.2Q182.1,566.2 178.6,563.9Q175.1,561.6 173.9,559.0Z" fill="#fdfbff" />
<path d="M156.3,690.0Q155.2,685.3 158.1,684.7Q161.0,684.1 163.4,689.4Q165.7,694.7 166.9,699.4Q168.0,704.0 165.7,704.6Q163.4,705.2 160.4,699.9Q157.5,694.7 156.3,690.0Z" fill="#fdfbff" />
<path d="M165.1,714.6Q165.7,708.7 169.8,705.2Q173.9,701.7 178.6,702.3Q183.3,702.9 183.9,707.0Q184.4,711.1 181.5,714.6Q178.6,718.1 174.5,721.6Q170.4,725.1 167.5,722.8Q164.5,720.5 165.1,714.6Z" fill="#fdfbff" />
<path d="M185.9,713.1Q185.6,709.9 188.5,710.5Q191.5,711.1 191.5,714.0Q191.5,716.9 188.8,716.6Q186.1,716.2 185.9,713.1Z" fill="#fdfbff" />
<path d="M154.3,718.5Q154.0,714.6 156.3,714.0Q158.7,713.4 159.0,717.5Q159.4,721.6 157.0,722.0Q154.7,722.3 154.3,718.5Z" fill="#fdfbff" />
<path d="M153.2,586.9Q152.8,583.4 155.2,583.0Q157.5,582.7 157.8,586.2Q158.2,589.7 155.9,590.0Q153.5,590.4 153.2,586.9Z" fill="#fdfbff" />
<path d="M258.6,613.8Q259.4,610.3 262.4,609.1Q265.3,608.0 264.7,611.5Q264.1,615.0 262.4,617.9Q260.6,620.9 259.2,619.1Q257.8,617.3 258.6,613.8Z" fill="#fdfbff" />
<path d="M305.7,660.7Q306.3,654.8 308.7,654.2Q311.0,653.7 311.6,662.5Q312.2,671.2 309.8,673.6Q307.5,675.9 306.3,671.2Q305.1,666.6 305.7,660.7Z" fill="#fdfbff" />
<path d="M251.8,680.0Q251.2,675.9 253.6,675.3Q255.9,674.8 256.5,678.9Q257.1,683.0 254.8,683.5Q252.4,684.1 251.8,680.0Z" fill="#fdfbff" />
<path d="M332.7,617.6Q332.1,612.7 335.0,612.1Q338.0,611.5 338.2,616.8Q338.4,622.0 335.8,622.3Q333.3,622.5 332.7,617.6Z" fill="#fdfbff" />
<path d="M267.4,573.4Q267.6,568.1 269.4,567.9Q271.2,567.7 270.6,573.7Q270.0,579.8 268.6,579.3Q267.2,578.7 267.4,573.4Z" fill="#fdfbff" />
<path d="M212.2,738.3Q212.6,734.5 214.3,733.9Q216.1,733.3 216.3,737.4Q216.6,741.5 214.2,741.8Q211.9,742.0 212.2,738.3Z" fill="#fdfbff" />
<path d="M244.0,602.1Q244.2,599.8 247.1,600.6Q250.1,601.4 249.5,603.7Q248.9,606.1 246.3,605.3Q243.7,604.4 244.0,602.1Z" fill="#fdfbff" />
<path d="M258.9,636.7Q257.1,633.7 263.5,630.2Q270.0,626.7 270.6,628.5Q271.2,630.2 265.9,634.9Q260.6,639.6 258.9,636.7Z" fill="#fdfbff" />
<path d="M317.4,593.9Q316.9,590.4 320.4,589.8Q323.9,589.2 324.5,592.7Q325.1,596.2 321.5,596.8Q318.0,597.4 317.4,593.9Z" fill="#fdfbff" />
<ellipse cx="292.3" cy="719.3" rx="7.0" ry="9.0" fill="#6d4aa6" opacity="0.55"/>
<ellipse cx="239.5" cy="563.4" rx="8.0" ry="6.0" fill="#6d4aa6" opacity="0.5"/>
<ellipse cx="155.2" cy="666.6" rx="6.0" ry="7.0" fill="#6d4aa6" opacity="0.45"/>
</g>
<g clip-path="url(#c2)" fill="#a88bcf" stroke="#7150a8" stroke-width="0.9" opacity="0.85" filter="url(#soft0)"><circle cx="394.7" cy="695.4" r="2.2"/><circle cx="498.9" cy="652.9" r="2.5"/><circle cx="406.0" cy="716.1" r="2.8"/><circle cx="537.1" cy="659.6" r="2.3"/><circle cx="470.1" cy="603.9" r="2.7"/><circle cx="358.9" cy="631.1" r="2.0"/><circle cx="487.9" cy="570.3" r="2.4"/><circle cx="534.0" cy="603.1" r="2.7"/><circle cx="409.7" cy="564.8" r="2.4"/><circle cx="579.2" cy="705.2" r="2.1"/><circle cx="552.0" cy="680.5" r="2.8"/><circle cx="365.7" cy="622.6" r="2.3"/><circle cx="468.4" cy="579.6" r="2.9"/><circle cx="569.1" cy="630.6" r="2.2"/><circle cx="392.5" cy="721.1" r="2.8"/><circle cx="385.9" cy="743.4" r="2.0"/><circle cx="458.6" cy="667.6" r="2.6"/><circle cx="434.2" cy="654.0" r="2.9"/><circle cx="399.6" cy="563.8" r="2.5"/><circle cx="550.0" cy="603.6" r="2.3"/><circle cx="572.8" cy="736.5" r="2.9"/><circle cx="525.4" cy="710.1" r="2.9"/><circle cx="486.8" cy="703.4" r="2.8"/><circle cx="385.3" cy="652.3" r="2.1"/><circle cx="541.4" cy="596.8" r="2.0"/><circle cx="562.7" cy="735.2" r="2.5"/><circle cx="448.9" cy="629.9" r="2.0"/><circle cx="458.2" cy="634.1" r="1.9"/><circle cx="578.6" cy="634.2" r="2.5"/><circle cx="364.1" cy="575.1" r="2.9"/><circle cx="517.3" cy="756.5" r="2.2"/><circle cx="468.1" cy="655.4" r="2.8"/><circle cx="480.1" cy="707.1" r="2.9"/><circle cx="407.4" cy="679.1" r="2.9"/><circle cx="481.5" cy="681.8" r="2.0"/><circle cx="398.2" cy="590.6" r="2.0"/><circle cx="435.3" cy="743.2" r="2.9"/><circle cx="435.0" cy="676.7" r="2.9"/><circle cx="426.1" cy="577.1" r="2.1"/><circle cx="372.7" cy="720.3" r="2.1"/><circle cx="530.3" cy="631.9" r="2.6"/><circle cx="509.6" cy="692.6" r="2.0"/><circle cx="557.3" cy="749.5" r="2.0"/><circle cx="448.4" cy="755.7" r="2.0"/><circle cx="571.2" cy="675.3" r="2.5"/><circle cx="553.8" cy="655.3" r="2.3"/><circle cx="441.4" cy="606.1" r="2.8"/><circle cx="552.3" cy="589.0" r="2.0"/><circle cx="529.6" cy="653.7" r="2.8"/><circle cx="543.6" cy="566.8" r="2.7"/><circle cx="415.3" cy="614.7" r="2.3"/><circle cx="451.1" cy="590.7" r="2.5"/><circle cx="373.6" cy="624.5" r="2.6"/><circle cx="414.1" cy="749.6" r="2.0"/><circle cx="364.5" cy="599.1" r="2.9"/><circle cx="543.9" cy="716.6" r="2.3"/><circle cx="452.6" cy="673.5" r="2.4"/><circle cx="546.3" cy="618.4" r="2.8"/><circle cx="476.6" cy="611.9" r="1.9"/><circle cx="528.4" cy="558.4" r="2.2"/><circle cx="510.0" cy="748.6" r="1.9"/><circle cx="363.4" cy="676.0" r="2.7"/><circle cx="500.8" cy="728.0" r="2.1"/><circle cx="487.6" cy="608.2" r="2.6"/><circle cx="558.8" cy="583.2" r="2.6"/><circle cx="379.2" cy="575.2" r="2.9"/><circle cx="363.8" cy="646.4" r="2.1"/><circle cx="389.4" cy="731.2" r="2.3"/><circle cx="503.4" cy="581.8" r="2.7"/><circle cx="477.5" cy="621.7" r="2.4"/><circle cx="441.9" cy="699.4" r="2.1"/><circle cx="480.0" cy="565.6" r="2.6"/><circle cx="515.7" cy="732.5" r="2.7"/><circle cx="372.3" cy="710.3" r="2.4"/><circle cx="414.2" cy="696.8" r="2.3"/><circle cx="427.7" cy="564.7" r="2.0"/><circle cx="444.3" cy="618.7" r="2.3"/><circle cx="557.7" cy="615.8" r="2.8"/><circle cx="469.6" cy="667.0" r="2.3"/><circle cx="568.2" cy="576.2" r="2.9"/><circle cx="491.4" cy="658.8" r="2.3"/><circle cx="426.9" cy="697.3" r="2.4"/><circle cx="428.7" cy="756.5" r="2.7"/><circle cx="526.5" cy="646.6" r="2.9"/><circle cx="495.8" cy="560.3" r="2.8"/><circle cx="501.0" cy="645.5" r="2.3"/><circle cx="472.8" cy="634.8" r="2.4"/><circle cx="539.2" cy="702.2" r="2.0"/><circle cx="459.2" cy="604.0" r="2.5"/><circle cx="443.6" cy="654.4" r="2.8"/><circle cx="498.1" cy="750.5" r="2.1"/><circle cx="377.1" cy="653.0" r="2.2"/><circle cx="467.2" cy="700.9" r="1.9"/><circle cx="555.4" cy="713.5" r="2.4"/><circle cx="497.0" cy="709.2" r="2.4"/><circle cx="412.5" cy="741.1" r="2.9"/><circle cx="443.7" cy="680.2" r="2.6"/><circle cx="540.9" cy="750.6" r="2.9"/><circle cx="577.3" cy="557.6" r="2.1"/><circle cx="427.4" cy="619.1" r="2.3"/><circle cx="444.9" cy="585.6" r="2.6"/><circle cx="425.2" cy="746.5" r="2.0"/><circle cx="514.1" cy="597.8" r="2.5"/><circle cx="432.5" cy="685.6" r="2.5"/><circle cx="509.2" cy="608.9" r="1.9"/><circle cx="568.9" cy="621.2" r="2.1"/><circle cx="414.5" cy="726.7" r="2.7"/><circle cx="419.6" cy="632.7" r="2.0"/><circle cx="566.6" cy="650.4" r="2.6"/><circle cx="455.0" cy="680.7" r="2.3"/><circle cx="420.4" cy="591.4" r="2.3"/><circle cx="399.9" cy="750.0" r="2.8"/><circle cx="565.2" cy="698.3" r="2.3"/><circle cx="362.4" cy="657.3" r="2.8"/><circle cx="359.9" cy="666.1" r="2.8"/><circle cx="379.1" cy="618.6" r="2.5"/><circle cx="458.8" cy="736.6" r="2.0"/><circle cx="533.6" cy="722.1" r="2.2"/><circle cx="399.7" cy="637.5" r="2.9"/><circle cx="480.4" cy="601.7" r="2.2"/><circle cx="376.0" cy="737.7" r="2.5"/><circle cx="538.8" cy="678.6" r="2.1"/><circle cx="535.4" cy="624.4" r="2.7"/><circle cx="424.2" cy="682.7" r="2.6"/><circle cx="555.4" cy="570.6" r="2.8"/><circle cx="373.2" cy="659.5" r="2.5"/><circle cx="418.0" cy="568.1" r="2.0"/><circle cx="393.2" cy="577.3" r="2.7"/><circle cx="564.4" cy="664.9" r="2.5"/><circle cx="448.7" cy="695.6" r="2.9"/><circle cx="519.4" cy="662.1" r="2.4"/><circle cx="436.2" cy="663.7" r="2.2"/><circle cx="497.4" cy="591.4" r="2.4"/><circle cx="536.9" cy="739.0" r="2.5"/><circle cx="476.3" cy="739.4" r="2.6"/><circle cx="566.8" cy="745.2" r="2.6"/><circle cx="579.3" cy="668.2" r="2.8"/><circle cx="553.7" cy="629.4" r="2.5"/><circle cx="376.5" cy="638.1" r="2.1"/><circle cx="397.7" cy="665.1" r="2.8"/><circle cx="387.2" cy="561.7" r="2.6"/><circle cx="364.0" cy="690.5" r="2.0"/><circle cx="404.9" cy="577.9" r="2.4"/><circle cx="385.4" cy="604.7" r="2.8"/><circle cx="477.3" cy="648.8" r="2.5"/><circle cx="488.1" cy="718.1" r="2.0"/><circle cx="521.3" cy="703.6" r="2.8"/><circle cx="445.4" cy="557.1" r="2.7"/><circle cx="505.4" cy="673.5" r="2.1"/><circle cx="485.9" cy="757.4" r="2.6"/><circle cx="401.8" cy="602.1" r="2.8"/><circle cx="520.8" cy="720.1" r="2.5"/><circle cx="465.1" cy="567.4" r="2.9"/><circle cx="440.2" cy="722.9" r="2.5"/><circle cx="490.8" cy="696.0" r="1.9"/><circle cx="549.9" cy="707.8" r="2.6"/><circle cx="563.8" cy="596.4" r="2.8"/><circle cx="546.0" cy="735.8" r="2.9"/><circle cx="542.3" cy="609.7" r="2.7"/><circle cx="406.5" cy="694.7" r="2.9"/><circle cx="439.8" cy="595.3" r="2.7"/><circle cx="512.4" cy="639.7" r="2.4"/><circle cx="503.2" cy="560.6" r="1.9"/><circle cx="518.7" cy="676.2" r="2.1"/><circle cx="456.5" cy="657.2" r="1.9"/><circle cx="499.1" cy="684.5" r="2.9"/><circle cx="439.2" cy="626.1" r="2.7"/><circle cx="525.4" cy="684.5" r="2.8"/><circle cx="488.2" cy="673.8" r="2.7"/><circle cx="476.6" cy="579.6" r="2.4"/><circle cx="448.0" cy="709.7" r="2.5"/><circle cx="379.5" cy="597.4" r="1.9"/><circle cx="473.5" cy="690.1" r="2.0"/><circle cx="360.2" cy="617.3" r="2.3"/><circle cx="437.4" cy="714.5" r="1.9"/><circle cx="486.6" cy="593.0" r="2.2"/><circle cx="571.9" cy="712.8" r="2.4"/><circle cx="394.5" cy="625.0" r="2.0"/><circle cx="370.0" cy="614.2" r="2.1"/><circle cx="533.8" cy="708.2" r="2.0"/><circle cx="383.0" cy="689.7" r="2.4"/><circle cx="441.1" cy="730.7" r="2.8"/><circle cx="481.4" cy="629.6" r="2.4"/><circle cx="402.1" cy="656.0" r="2.6"/><circle cx="399.5" cy="740.4" r="2.6"/><circle cx="511.4" cy="653.1" r="2.7"/><circle cx="431.0" cy="736.0" r="2.7"/><circle cx="545.6" cy="585.7" r="2.4"/><circle cx="508.7" cy="712.0" r="1.9"/><circle cx="579.0" cy="622.4" r="2.1"/><circle cx="496.8" cy="611.3" r="2.2"/><circle cx="417.3" cy="716.4" r="2.2"/><circle cx="533.2" cy="732.1" r="2.5"/><circle cx="556.1" cy="722.3" r="2.4"/><circle cx="574.9" cy="657.0" r="2.2"/><circle cx="572.9" cy="688.4" r="2.1"/><circle cx="458.8" cy="710.2" r="2.7"/><circle cx="368.9" cy="684.7" r="2.9"/><circle cx="423.7" cy="646.2" r="2.6"/><circle cx="383.9" cy="626.6" r="2.0"/><circle cx="513.7" cy="724.6" r="2.6"/><circle cx="575.1" cy="608.1" r="2.7"/><circle cx="496.7" cy="619.3" r="2.5"/><circle cx="536.1" cy="591.3" r="2.6"/><circle cx="546.4" cy="727.0" r="2.8"/><circle cx="526.7" cy="576.0" r="2.4"/><circle cx="414.2" cy="600.0" r="2.6"/><circle cx="519.7" cy="605.5" r="2.1"/><circle cx="578.8" cy="573.2" r="2.8"/><circle cx="460.3" cy="696.0" r="2.5"/><circle cx="553.2" cy="740.1" r="2.1"/><circle cx="377.0" cy="700.4" r="2.5"/><circle cx="466.0" cy="739.6" r="2.8"/><circle cx="384.9" cy="718.5" r="2.4"/><circle cx="518.2" cy="562.6" r="2.2"/><circle cx="426.8" cy="584.8" r="2.6"/><circle cx="372.1" cy="748.0" r="2.9"/><circle cx="572.0" cy="645.1" r="2.9"/><circle cx="492.5" cy="636.6" r="2.2"/><circle cx="399.5" cy="616.4" r="2.4"/><circle cx="427.6" cy="609.1" r="2.3"/><circle cx="383.9" cy="663.8" r="2.0"/><circle cx="433.8" cy="615.0" r="2.5"/><circle cx="543.6" cy="689.0" r="2.2"/><circle cx="510.1" cy="619.9" r="2.4"/><circle cx="572.6" cy="597.3" r="2.8"/><circle cx="477.3" cy="696.7" r="2.5"/><circle cx="410.7" cy="643.0" r="2.9"/><circle cx="506.8" cy="756.4" r="2.1"/><circle cx="564.5" cy="683.2" r="2.1"/><circle cx="488.1" cy="736.5" r="1.9"/><circle cx="453.0" cy="567.8" r="2.6"/><circle cx="410.1" cy="593.7" r="2.2"/><circle cx="396.5" cy="676.3" r="2.1"/><circle cx="517.9" cy="692.2" r="2.6"/><circle cx="546.0" cy="653.3" r="2.9"/><circle cx="367.5" cy="589.7" r="2.7"/><circle cx="442.6" cy="687.9" r="2.9"/><circle cx="479.8" cy="716.7" r="2.9"/><circle cx="524.7" cy="752.9" r="2.4"/><circle cx="462.8" cy="611.1" r="2.1"/><circle cx="534.3" cy="642.3" r="2.7"/><circle cx="525.8" cy="613.4" r="2.1"/><circle cx="457.1" cy="750.2" r="1.9"/><circle cx="505.3" cy="739.2" r="2.3"/><circle cx="533.2" cy="752.3" r="2.7"/><circle cx="431.2" cy="602.2" r="2.6"/><circle cx="497.5" cy="663.1" r="2.3"/><circle cx="524.8" cy="585.6" r="2.0"/><circle cx="572.8" cy="750.5" r="2.1"/><circle cx="467.4" cy="640.2" r="2.5"/><circle cx="378.8" cy="673.7" r="2.4"/><circle cx="464.0" cy="688.1" r="2.5"/><circle cx="386.5" cy="751.6" r="2.7"/><circle cx="517.5" cy="582.9" r="2.5"/><circle cx="546.1" cy="634.7" r="2.8"/><circle cx="413.8" cy="654.2" r="2.9"/><circle cx="566.8" cy="728.3" r="2.4"/><circle cx="398.8" cy="727.2" r="2.3"/><circle cx="474.5" cy="723.9" r="2.4"/><circle cx="452.6" cy="609.8" r="2.1"/><circle cx="565.6" cy="613.6" r="2.1"/><circle cx="362.2" cy="606.1" r="2.6"/><circle cx="519.4" cy="625.7" r="2.3"/><circle cx="465.5" cy="720.1" r="1.9"/><circle cx="471.6" cy="752.9" r="2.3"/><circle cx="466.8" cy="679.2" r="2.2"/><circle cx="441.6" cy="571.7" r="1.9"/><circle cx="383.6" cy="710.2" r="1.9"/><circle cx="375.3" cy="559.7" r="2.5"/><circle cx="501.1" cy="625.8" r="2.7"/><circle cx="437.3" cy="636.2" r="2.8"/><circle cx="378.2" cy="729.5" r="2.5"/><circle cx="504.2" cy="719.8" r="2.1"/><circle cx="435.2" cy="645.8" r="2.6"/><circle cx="402.4" cy="703.7" r="2.2"/><circle cx="491.1" cy="646.2" r="2.1"/><circle cx="483.1" cy="585.3" r="2.2"/><circle cx="464.4" cy="621.7" r="2.0"/><circle cx="450.2" cy="688.2" r="2.0"/><circle cx="419.5" cy="667.2" r="2.9"/><circle cx="536.5" cy="617.0" r="2.0"/><circle cx="388.0" cy="597.5" r="2.9"/><circle cx="483.3" cy="729.3" r="2.6"/><circle cx="449.2" cy="722.9" r="2.7"/><circle cx="360.1" cy="731.3" r="2.0"/><circle cx="417.9" cy="623.1" r="2.6"/><circle cx="506.0" cy="701.8" r="2.1"/><circle cx="358.3" cy="561.8" r="2.4"/><circle cx="526.3" cy="741.5" r="2.4"/><circle cx="488.4" cy="617.7" r="2.8"/><circle cx="447.8" cy="643.3" r="2.0"/><circle cx="483.8" cy="663.8" r="1.9"/><circle cx="522.4" cy="635.3" r="2.5"/><circle cx="566.8" cy="605.5" r="2.4"/><circle cx="533.4" cy="582.7" r="2.6"/><circle cx="496.5" cy="603.2" r="2.0"/><circle cx="359.5" cy="718.0" r="2.3"/><circle cx="420.7" cy="737.6" r="2.6"/><circle cx="406.1" cy="729.0" r="2.5"/><circle cx="556.4" cy="690.7" r="2.2"/><circle cx="403.2" cy="623.9" r="1.9"/><circle cx="495.3" cy="743.0" r="1.9"/><circle cx="434.1" cy="577.3" r="2.8"/><circle cx="373.8" cy="607.1" r="2.2"/><circle cx="448.4" cy="744.7" r="2.0"/><circle cx="374.6" cy="567.8" r="2.2"/><circle cx="534.0" cy="670.1" r="2.1"/><circle cx="578.5" cy="721.3" r="2.5"/><circle cx="361.0" cy="750.3" r="1.9"/></g>
<g clip-path="url(#c2)" filter="url(#soft)">
<path d="M398.1,673.1Q395.0,663.3 401.8,662.1Q408.5,660.8 413.4,668.8Q418.2,676.7 420.7,686.5Q423.1,696.2 422.5,703.6Q421.9,710.9 418.2,710.9Q414.6,710.9 411.8,703.6Q409.0,696.2 405.1,689.5Q401.2,682.8 398.1,673.1Z" fill="#fdfbff" />
<path d="M433.5,704.8Q439.0,698.7 445.7,697.5Q452.4,696.2 456.1,702.4Q459.7,708.5 459.1,713.3Q458.5,718.2 455.5,723.1Q452.4,728.0 447.5,731.7Q442.7,735.3 439.0,739.0Q435.3,742.6 430.4,745.1Q425.6,747.5 420.7,746.3Q415.8,745.1 414.6,739.0Q413.4,732.9 414.6,727.4Q415.8,721.9 421.9,716.4Q428.0,710.9 433.5,704.8Z" fill="#fdfbff" />
<path d="M393.2,727.4Q393.8,721.9 398.1,721.3Q402.4,720.7 404.2,725.5Q406.0,730.4 404.8,735.9Q403.6,741.4 399.9,742.0Q396.3,742.6 394.4,737.8Q392.6,732.9 393.2,727.4Z" fill="#fdfbff" />
<path d="M461.0,722.5Q459.7,714.6 465.8,712.7Q472.0,710.9 476.8,713.3Q481.7,715.8 481.1,721.9Q480.5,728.0 476.2,731.7Q472.0,735.3 467.1,732.9Q462.2,730.4 461.0,722.5Z" fill="#fdfbff" />
<path d="M370.3,643.8Q370.6,637.7 373.7,637.0Q376.7,636.4 378.0,643.1Q379.2,649.9 378.6,656.0Q378.0,662.1 375.2,661.5Q372.3,660.8 371.1,655.4Q369.9,649.9 370.3,643.8Z" fill="#fdfbff" />
<path d="M495.1,565.4Q494.4,559.5 497.2,560.1Q500.0,560.8 500.6,566.2Q501.2,571.7 498.6,571.5Q495.9,571.2 495.1,565.4Z" fill="#fdfbff" />
<path d="M502.2,592.5Q501.2,583.9 504.3,585.2Q507.4,586.4 508.2,594.3Q509.1,602.3 506.1,601.6Q503.2,601.0 502.2,592.5Z" fill="#fdfbff" />
<path d="M565.1,598.0Q564.7,588.8 566.6,589.4Q568.4,590.0 569.0,599.2Q569.6,608.4 567.5,607.7Q565.5,607.1 565.1,598.0Z" fill="#fdfbff" />
<path d="M428.6,630.0Q428.0,626.7 434.1,625.4Q440.2,624.2 440.5,627.5Q440.7,630.8 435.0,632.0Q429.2,633.3 428.6,630.0Z" fill="#fdfbff" />
<path d="M448.8,652.9Q447.5,647.4 451.8,646.8Q456.1,646.2 456.9,651.7Q457.8,657.2 453.9,657.8Q450.0,658.4 448.8,652.9Z" fill="#fdfbff" />
<path d="M470.7,641.3Q469.5,634.0 475.0,633.4Q480.5,632.8 481.4,640.1Q482.2,647.4 477.1,648.0Q472.0,648.6 470.7,641.3Z" fill="#fdfbff" />
<path d="M514.1,683.4Q513.5,676.7 516.9,677.3Q520.3,677.9 520.8,684.7Q521.3,691.4 518.0,690.8Q514.7,690.1 514.1,683.4Z" fill="#fdfbff" />
<path d="M570.2,692.3Q569.6,686.5 574.2,687.1Q578.9,687.7 579.1,693.2Q579.4,698.7 575.1,698.4Q570.8,698.2 570.2,692.3Z" fill="#fdfbff" />
<path d="M550.7,680.6Q550.1,677.2 557.4,676.7Q564.7,676.2 564.7,679.5Q564.7,682.8 558.0,683.4Q551.3,684.0 550.7,680.6Z" fill="#fdfbff" />
<path d="M514.7,738.6Q513.5,731.7 521.4,730.4Q529.3,729.2 529.9,735.9Q530.5,742.6 523.2,744.1Q515.9,745.6 514.7,738.6Z" fill="#fdfbff" />
<path d="M385.3,558.9Q386.5,554.6 389.6,555.3Q392.6,555.9 390.2,560.8Q387.7,565.6 385.9,564.4Q384.1,563.2 385.3,558.9Z" fill="#fdfbff" />
<path d="M453.6,595.5Q452.4,588.8 455.5,589.4Q458.5,590.0 459.1,596.8Q459.7,603.5 457.3,602.9Q454.9,602.3 453.6,595.5Z" fill="#fdfbff" />
<path d="M446.9,653.9Q446.3,651.1 450.6,650.5Q454.9,649.9 455.5,652.9Q456.1,656.0 451.8,656.3Q447.5,656.7 446.9,653.9Z" fill="#fdfbff" />
<path d="M537.6,562.9Q537.9,559.5 540.6,560.1Q543.2,560.8 542.8,564.0Q542.3,567.3 539.8,566.9Q537.4,566.4 537.6,562.9Z" fill="#fdfbff" />
<path d="M536.0,659.9Q535.4,654.7 537.9,654.1Q540.3,653.5 540.9,659.0Q541.5,664.5 539.1,664.8Q536.7,665.0 536.0,659.9Z" fill="#fdfbff" />
<path d="M555.6,750.0Q555.0,745.1 559.8,743.9Q564.7,742.6 565.3,747.5Q565.9,752.4 561.1,753.6Q556.2,754.8 555.6,750.0Z" fill="#fdfbff" />
<path d="M368.6,716.0Q368.2,710.9 371.2,710.3Q374.3,709.7 374.1,715.2Q373.8,720.7 371.4,720.9Q368.9,721.2 368.6,716.0Z" fill="#fdfbff" />
<ellipse cx="391.4" cy="635.2" rx="12.0" ry="9.0" fill="#7a4aa8" opacity="0.5"/>
<ellipse cx="381.6" cy="684.0" rx="7.0" ry="12.0" fill="#7a4aa8" opacity="0.4"/>
<ellipse cx="452.4" cy="671.8" rx="8.0" ry="7.0" fill="#7a4aa8" opacity="0.4"/>
<ellipse cx="496.4" cy="662.1" rx="9.0" ry="22.0" fill="#ee5fc0" opacity="0.45"/>
<ellipse cx="520.8" cy="647.4" rx="8.0" ry="14.0" fill="#ee5fc0" opacity="0.4"/>
<ellipse cx="520.8" cy="576.6" rx="9.0" ry="5.0" fill="#ee4fb8" opacity="0.6"/>
<ellipse cx="493.9" cy="613.2" rx="6.0" ry="9.0" fill="#ee4fb8" opacity="0.5"/>
</g>
<g clip-path="url(#c3)" filter="url(#soft)">
<ellipse cx="164.5" cy="795.8" rx="6.1" ry="9.4" fill="#c9b2dc" transform="rotate(10 164.5 795.8)" opacity="0.72"/>
<ellipse cx="155.2" cy="819.2" rx="8.0" ry="6.1" fill="#c9b2dc" transform="rotate(-20 155.2 819.2)" opacity="0.72"/>
<ellipse cx="178.6" cy="823.9" rx="7.0" ry="8.4" fill="#c9b2dc" transform="rotate(20 178.6 823.9)" opacity="0.72"/>
<ellipse cx="145.8" cy="840.3" rx="7.0" ry="7.0" fill="#c9b2dc" opacity="0.72"/>
<ellipse cx="170.4" cy="843.9" rx="8.0" ry="6.1" fill="#c9b2dc" transform="rotate(30 170.4 843.9)" opacity="0.72"/>
<ellipse cx="179.8" cy="859.1" rx="7.5" ry="9.8" fill="#c9b2dc" transform="rotate(-15 179.8 859.1)" opacity="0.72"/>
<ellipse cx="172.7" cy="877.8" rx="8.4" ry="7.0" fill="#c9b2dc" transform="rotate(20 172.7 877.8)" opacity="0.72"/>
<ellipse cx="143.4" cy="880.2" rx="8.4" ry="6.1" fill="#c9b2dc" transform="rotate(10 143.4 880.2)" opacity="0.72"/>
<ellipse cx="159.8" cy="906.0" rx="6.6" ry="8.4" fill="#c9b2dc" transform="rotate(15 159.8 906.0)" opacity="0.72"/>
<ellipse cx="170.4" cy="908.3" rx="5.6" ry="8.0" fill="#c9b2dc" transform="rotate(10 170.4 908.3)" opacity="0.72"/>
<ellipse cx="147.0" cy="924.7" rx="8.0" ry="10.3" fill="#c9b2dc" transform="rotate(25 147.0 924.7)" opacity="0.72"/>
<ellipse cx="178.6" cy="924.7" rx="4.7" ry="4.2" fill="#c9b2dc" opacity="0.72"/>
<ellipse cx="251.2" cy="784.1" rx="9.4" ry="6.1" fill="#c9b2dc" transform="rotate(10 251.2 784.1)" opacity="0.72"/>
<ellipse cx="270.0" cy="793.5" rx="8.0" ry="6.6" fill="#c9b2dc" transform="rotate(-20 270.0 793.5)" opacity="0.72"/>
<ellipse cx="260.6" cy="809.9" rx="9.4" ry="5.6" fill="#c9b2dc" opacity="0.72"/>
<ellipse cx="270.0" cy="818.1" rx="5.6" ry="4.7" fill="#c9b2dc" opacity="0.72"/>
<ellipse cx="307.5" cy="788.8" rx="5.6" ry="9.4" fill="#c9b2dc" opacity="0.72"/>
<ellipse cx="319.2" cy="798.2" rx="9.4" ry="5.2" fill="#c9b2dc" transform="rotate(-30 319.2 798.2)" opacity="0.72"/>
<ellipse cx="330.9" cy="788.8" rx="5.2" ry="8.0" fill="#c9b2dc" opacity="0.72"/>
<ellipse cx="314.5" cy="814.6" rx="6.1" ry="10.3" fill="#c9b2dc" transform="rotate(10 314.5 814.6)" opacity="0.72"/>
<ellipse cx="334.4" cy="826.3" rx="4.2" ry="14.1" fill="#c9b2dc" transform="rotate(5 334.4 826.3)" opacity="0.72"/>
<ellipse cx="323.9" cy="821.6" rx="4.7" ry="7.0" fill="#c9b2dc" opacity="0.72"/>
<ellipse cx="284.0" cy="838.0" rx="7.0" ry="10.3" fill="#c9b2dc" transform="rotate(-20 284.0 838.0)" opacity="0.72"/>
<ellipse cx="298.1" cy="850.9" rx="9.4" ry="8.4" fill="#c9b2dc" transform="rotate(30 298.1 850.9)" opacity="0.72"/>
<ellipse cx="319.2" cy="852.1" rx="3.3" ry="7.0" fill="#c9b2dc" transform="rotate(10 319.2 852.1)" opacity="0.72"/>
<ellipse cx="217.3" cy="845.0" rx="7.0" ry="10.3" fill="#c9b2dc" opacity="0.72"/>
<ellipse cx="241.9" cy="849.7" rx="8.4" ry="8.4" fill="#c9b2dc" opacity="0.72"/>
<ellipse cx="212.6" cy="826.3" rx="3.3" ry="5.6" fill="#c9b2dc" opacity="0.72"/>
<ellipse cx="200.9" cy="889.6" rx="8.0" ry="10.3" fill="#c9b2dc" transform="rotate(-15 200.9 889.6)" opacity="0.72"/>
<ellipse cx="216.1" cy="880.2" rx="5.6" ry="7.0" fill="#c9b2dc" opacity="0.72"/>
<ellipse cx="217.3" cy="894.2" rx="8.4" ry="6.6" fill="#c9b2dc" transform="rotate(10 217.3 894.2)" opacity="0.72"/>
<ellipse cx="230.1" cy="886.0" rx="5.6" ry="7.0" fill="#c9b2dc" opacity="0.72"/>
<ellipse cx="252.4" cy="884.9" rx="9.4" ry="11.7" fill="#c9b2dc" transform="rotate(15 252.4 884.9)" opacity="0.72"/>
<ellipse cx="274.7" cy="890.7" rx="9.4" ry="6.6" fill="#c9b2dc" transform="rotate(-25 274.7 890.7)" opacity="0.72"/>
<ellipse cx="288.7" cy="881.4" rx="8.4" ry="5.2" fill="#c9b2dc" transform="rotate(-25 288.7 881.4)" opacity="0.72"/>
<ellipse cx="302.8" cy="870.8" rx="9.4" ry="4.2" fill="#c9b2dc" transform="rotate(-30 302.8 870.8)" opacity="0.72"/>
<ellipse cx="216.1" cy="913.0" rx="11.7" ry="9.4" fill="#c9b2dc" transform="rotate(25 216.1 913.0)" opacity="0.72"/>
<ellipse cx="238.4" cy="903.6" rx="9.4" ry="4.7" fill="#c9b2dc" transform="rotate(10 238.4 903.6)" opacity="0.72"/>
<ellipse cx="241.9" cy="918.8" rx="9.4" ry="5.2" fill="#c9b2dc" transform="rotate(15 241.9 918.8)" opacity="0.72"/>
<ellipse cx="258.3" cy="908.3" rx="7.0" ry="7.0" fill="#c9b2dc" opacity="0.72"/>
<ellipse cx="266.5" cy="924.7" rx="7.0" ry="4.2" fill="#c9b2dc" transform="rotate(20 266.5 924.7)" opacity="0.72"/>
<ellipse cx="281.7" cy="934.1" rx="6.1" ry="4.7" fill="#c9b2dc" transform="rotate(30 281.7 934.1)" opacity="0.72"/>
<ellipse cx="274.7" cy="941.1" rx="11.7" ry="3.3" fill="#c9b2dc" transform="rotate(30 274.7 941.1)" opacity="0.72"/>
<ellipse cx="293.4" cy="952.8" rx="3.7" ry="11.7" fill="#c9b2dc" transform="rotate(-25 293.4 952.8)" opacity="0.72"/>
<ellipse cx="302.8" cy="932.9" rx="8.0" ry="10.8" fill="#c9b2dc" transform="rotate(10 302.8 932.9)" opacity="0.72"/>
<ellipse cx="321.5" cy="927.0" rx="7.0" ry="9.4" fill="#c9b2dc" opacity="0.72"/>
<ellipse cx="332.1" cy="917.7" rx="5.2" ry="7.0" fill="#c9b2dc" opacity="0.72"/>
<ellipse cx="321.5" cy="952.8" rx="4.7" ry="9.4" fill="#c9b2dc" transform="rotate(10 321.5 952.8)" opacity="0.72"/>
<ellipse cx="332.1" cy="957.5" rx="5.6" ry="9.4" fill="#c9b2dc" transform="rotate(20 332.1 957.5)" opacity="0.72"/>
<ellipse cx="183.3" cy="957.5" rx="7.0" ry="6.6" fill="#c9b2dc" opacity="0.72"/>
<ellipse cx="190.3" cy="966.9" rx="6.1" ry="5.2" fill="#c9b2dc" opacity="0.72"/>
<ellipse cx="138.7" cy="941.1" rx="7.0" ry="3.7" fill="#c9b2dc" opacity="0.72"/>
<ellipse cx="176.2" cy="924.7" rx="3.7" ry="3.7" fill="#c9b2dc" opacity="0.72"/>
<ellipse cx="332.1" cy="884.9" rx="4.7" ry="4.7" fill="#c9b2dc" opacity="0.72"/>
<ellipse cx="211.4" cy="969.2" rx="5.2" ry="3.7" fill="#c9b2dc" opacity="0.72"/>
<ellipse cx="223.1" cy="973.9" rx="4.7" ry="4.7" fill="#c9b2dc" opacity="0.72"/>
<ellipse cx="138.7" cy="973.9" rx="5.2" ry="6.1" fill="#c9b2dc" opacity="0.72"/>
<ellipse cx="287.6" cy="969.2" rx="3.7" ry="4.2" fill="#c9b2dc" opacity="0.72"/>
<ellipse cx="164.5" cy="795.8" rx="1.9" ry="3.0" fill="#fbf7ff" transform="rotate(10 164.5 795.8)" />
<ellipse cx="155.2" cy="819.2" rx="2.5" ry="1.9" fill="#fbf7ff" transform="rotate(-20 155.2 819.2)" />
<ellipse cx="178.6" cy="823.9" rx="2.2" ry="2.7" fill="#fbf7ff" transform="rotate(20 178.6 823.9)" />
<ellipse cx="145.8" cy="840.3" rx="2.2" ry="2.2" fill="#fbf7ff" />
<ellipse cx="170.4" cy="843.9" rx="2.5" ry="1.9" fill="#fbf7ff" transform="rotate(30 170.4 843.9)" />
<ellipse cx="179.8" cy="859.1" rx="2.4" ry="3.1" fill="#fbf7ff" transform="rotate(-15 179.8 859.1)" />
<ellipse cx="172.7" cy="877.8" rx="2.7" ry="2.2" fill="#fbf7ff" transform="rotate(20 172.7 877.8)" />
<ellipse cx="143.4" cy="880.2" rx="2.7" ry="1.9" fill="#fbf7ff" transform="rotate(10 143.4 880.2)" />
<ellipse cx="159.8" cy="906.0" rx="2.1" ry="2.7" fill="#fbf7ff" transform="rotate(15 159.8 906.0)" />
<ellipse cx="170.4" cy="908.3" rx="1.8" ry="2.5" fill="#fbf7ff" transform="rotate(10 170.4 908.3)" />
<ellipse cx="147.0" cy="924.7" rx="2.5" ry="3.3" fill="#fbf7ff" transform="rotate(25 147.0 924.7)" />
<ellipse cx="178.6" cy="924.7" rx="1.5" ry="1.3" fill="#fbf7ff" />
<ellipse cx="251.2" cy="784.1" rx="3.0" ry="1.9" fill="#fbf7ff" transform="rotate(10 251.2 784.1)" />
<ellipse cx="270.0" cy="793.5" rx="2.5" ry="2.1" fill="#fbf7ff" transform="rotate(-20 270.0 793.5)" />
<ellipse cx="260.6" cy="809.9" rx="3.0" ry="1.8" fill="#fbf7ff" />
<ellipse cx="270.0" cy="818.1" rx="1.8" ry="1.5" fill="#fbf7ff" />
<ellipse cx="307.5" cy="788.8" rx="1.8" ry="3.0" fill="#fbf7ff" />
<ellipse cx="319.2" cy="798.2" rx="3.0" ry="1.6" fill="#fbf7ff" transform="rotate(-30 319.2 798.2)" />
<ellipse cx="330.9" cy="788.8" rx="1.6" ry="2.5" fill="#fbf7ff" />
<ellipse cx="314.5" cy="814.6" rx="1.9" ry="3.3" fill="#fbf7ff" transform="rotate(10 314.5 814.6)" />
<ellipse cx="334.4" cy="826.3" rx="1.3" ry="4.5" fill="#fbf7ff" transform="rotate(5 334.4 826.3)" />
<ellipse cx="323.9" cy="821.6" rx="1.5" ry="2.2" fill="#fbf7ff" />
<ellipse cx="284.0" cy="838.0" rx="2.2" ry="3.3" fill="#fbf7ff" transform="rotate(-20 284.0 838.0)" />
<ellipse cx="298.1" cy="850.9" rx="3.0" ry="2.7" fill="#fbf7ff" transform="rotate(30 298.1 850.9)" />
<ellipse cx="319.2" cy="852.1" rx="1.0" ry="2.2" fill="#fbf7ff" transform="rotate(10 319.2 852.1)" />
<ellipse cx="217.3" cy="845.0" rx="2.2" ry="3.3" fill="#fbf7ff" />
<ellipse cx="241.9" cy="849.7" rx="2.7" ry="2.7" fill="#fbf7ff" />
<ellipse cx="212.6" cy="826.3" rx="1.0" ry="1.8" fill="#fbf7ff" />
<ellipse cx="200.9" cy="889.6" rx="2.5" ry="3.3" fill="#fbf7ff" transform="rotate(-15 200.9 889.6)" />
<ellipse cx="216.1" cy="880.2" rx="1.8" ry="2.2" fill="#fbf7ff" />
<ellipse cx="217.3" cy="894.2" rx="2.7" ry="2.1" fill="#fbf7ff" transform="rotate(10 217.3 894.2)" />
<ellipse cx="230.1" cy="886.0" rx="1.8" ry="2.2" fill="#fbf7ff" />
<ellipse cx="252.4" cy="884.9" rx="3.0" ry="3.7" fill="#fbf7ff" transform="rotate(15 252.4 884.9)" />
<ellipse cx="274.7" cy="890.7" rx="3.0" ry="2.1" fill="#fbf7ff" transform="rotate(-25 274.7 890.7)" />
<ellipse cx="288.7" cy="881.4" rx="2.7" ry="1.6" fill="#fbf7ff" transform="rotate(-25 288.7 881.4)" />
<ellipse cx="302.8" cy="870.8" rx="3.0" ry="1.3" fill="#fbf7ff" transform="rotate(-30 302.8 870.8)" />
<ellipse cx="216.1" cy="913.0" rx="3.7" ry="3.0" fill="#fbf7ff" transform="rotate(25 216.1 913.0)" />
<ellipse cx="238.4" cy="903.6" rx="3.0" ry="1.5" fill="#fbf7ff" transform="rotate(10 238.4 903.6)" />
<ellipse cx="241.9" cy="918.8" rx="3.0" ry="1.6" fill="#fbf7ff" transform="rotate(15 241.9 918.8)" />
<ellipse cx="258.3" cy="908.3" rx="2.2" ry="2.2" fill="#fbf7ff" />
<ellipse cx="266.5" cy="924.7" rx="2.2" ry="1.3" fill="#fbf7ff" transform="rotate(20 266.5 924.7)" />
<ellipse cx="281.7" cy="934.1" rx="1.9" ry="1.5" fill="#fbf7ff" transform="rotate(30 281.7 934.1)" />
<ellipse cx="274.7" cy="941.1" rx="3.7" ry="1.0" fill="#fbf7ff" transform="rotate(30 274.7 941.1)" />
<ellipse cx="293.4" cy="952.8" rx="1.2" ry="3.7" fill="#fbf7ff" transform="rotate(-25 293.4 952.8)" />
<ellipse cx="302.8" cy="932.9" rx="2.5" ry="3.4" fill="#fbf7ff" transform="rotate(10 302.8 932.9)" />
<ellipse cx="321.5" cy="927.0" rx="2.2" ry="3.0" fill="#fbf7ff" />
<ellipse cx="332.1" cy="917.7" rx="1.6" ry="2.2" fill="#fbf7ff" />
<ellipse cx="321.5" cy="952.8" rx="1.5" ry="3.0" fill="#fbf7ff" transform="rotate(10 321.5 952.8)" />
<ellipse cx="332.1" cy="957.5" rx="1.8" ry="3.0" fill="#fbf7ff" transform="rotate(20 332.1 957.5)" />
<ellipse cx="183.3" cy="957.5" rx="2.2" ry="2.1" fill="#fbf7ff" />
<ellipse cx="190.3" cy="966.9" rx="1.9" ry="1.6" fill="#fbf7ff" />
<ellipse cx="138.7" cy="941.1" rx="2.2" ry="1.2" fill="#fbf7ff" />
<ellipse cx="176.2" cy="924.7" rx="1.2" ry="1.2" fill="#fbf7ff" />
<ellipse cx="332.1" cy="884.9" rx="1.5" ry="1.5" fill="#fbf7ff" />
<ellipse cx="211.4" cy="969.2" rx="1.6" ry="1.2" fill="#fbf7ff" />
<ellipse cx="223.1" cy="973.9" rx="1.5" ry="1.5" fill="#fbf7ff" />
<ellipse cx="138.7" cy="973.9" rx="1.6" ry="1.9" fill="#fbf7ff" />
<ellipse cx="287.6" cy="969.2" rx="1.2" ry="1.3" fill="#fbf7ff" />
</g>
<g clip-path="url(#c3)" fill="#3d2a78" opacity="0.75">
<circle cx="164.9" cy="802.5" r="0.9"/>
<circle cx="168.0" cy="799.9" r="0.9"/>
<circle cx="161.0" cy="799.9" r="0.9"/>
<circle cx="167.0" cy="801.4" r="0.9"/>
<circle cx="168.5" cy="798.5" r="0.9"/>
<circle cx="161.0" cy="799.7" r="0.9"/>
<circle cx="168.3" cy="792.5" r="0.9"/>
<circle cx="156.9" cy="815.1" r="0.9"/>
<circle cx="155.7" cy="814.9" r="0.9"/>
<circle cx="156.2" cy="823.6" r="0.9"/>
<circle cx="149.6" cy="818.2" r="0.9"/>
<circle cx="154.2" cy="823.6" r="0.9"/>
<circle cx="157.8" cy="823.1" r="0.9"/>
<circle cx="159.7" cy="822.0" r="0.9"/>
<circle cx="179.7" cy="829.9" r="0.9"/>
<circle cx="183.1" cy="821.3" r="0.9"/>
<circle cx="181.0" cy="818.6" r="0.9"/>
<circle cx="180.4" cy="818.2" r="0.9"/>
<circle cx="180.2" cy="818.2" r="0.9"/>
<circle cx="180.4" cy="829.6" r="0.9"/>
<circle cx="176.7" cy="829.6" r="0.9"/>
<circle cx="142.2" cy="836.7" r="0.9"/>
<circle cx="145.2" cy="835.3" r="0.9"/>
<circle cx="148.9" cy="836.3" r="0.9"/>
<circle cx="149.5" cy="836.9" r="0.9"/>
<circle cx="150.1" cy="843.0" r="0.9"/>
<circle cx="141.8" cy="837.2" r="0.9"/>
<circle cx="143.4" cy="835.9" r="0.9"/>
<circle cx="164.7" cy="843.7" r="0.9"/>
<circle cx="172.9" cy="847.8" r="0.9"/>
<circle cx="164.7" cy="844.6" r="0.9"/>
<circle cx="175.2" cy="846.2" r="0.9"/>
<circle cx="175.6" cy="842.1" r="0.9"/>
<circle cx="174.2" cy="840.6" r="0.9"/>
<circle cx="164.9" cy="842.6" r="0.9"/>
<circle cx="178.1" cy="865.8" r="0.9"/>
<circle cx="184.3" cy="855.2" r="0.9"/>
<circle cx="174.9" cy="856.0" r="0.9"/>
<circle cx="183.8" cy="854.3" r="0.9"/>
<circle cx="182.9" cy="853.3" r="0.9"/>
<circle cx="174.4" cy="858.7" r="0.9"/>
<circle cx="175.1" cy="862.7" r="0.9"/>
<circle cx="175.4" cy="855.0" r="0.9"/>
<circle cx="167.2" cy="880.0" r="0.9"/>
<circle cx="175.9" cy="882.1" r="0.9"/>
<circle cx="170.7" cy="882.6" r="0.9"/>
<circle cx="175.1" cy="873.2" r="0.9"/>
<circle cx="178.6" cy="879.2" r="0.9"/>
<circle cx="178.5" cy="879.3" r="0.9"/>
<circle cx="168.5" cy="874.2" r="0.9"/>
<circle cx="142.3" cy="884.5" r="0.9"/>
<circle cx="137.5" cy="879.2" r="0.9"/>
<circle cx="137.5" cy="881.0" r="0.9"/>
<circle cx="140.1" cy="883.8" r="0.9"/>
<circle cx="149.5" cy="880.1" r="0.9"/>
<circle cx="145.5" cy="884.3" r="0.9"/>
<circle cx="138.3" cy="882.5" r="0.9"/>
<circle cx="161.2" cy="911.8" r="0.9"/>
<circle cx="156.7" cy="901.5" r="0.9"/>
<circle cx="159.1" cy="911.9" r="0.9"/>
<circle cx="156.9" cy="910.7" r="0.9"/>
<circle cx="159.7" cy="899.9" r="0.9"/>
<circle cx="157.8" cy="911.4" r="0.9"/>
<circle cx="155.4" cy="903.8" r="0.9"/>
<circle cx="173.7" cy="905.1" r="0.9"/>
<circle cx="173.6" cy="911.7" r="0.9"/>
<circle cx="174.1" cy="910.5" r="0.9"/>
<circle cx="170.9" cy="914.0" r="0.9"/>
<circle cx="170.8" cy="902.6" r="0.9"/>
<circle cx="167.4" cy="904.5" r="0.9"/>
<circle cx="170.7" cy="914.0" r="0.9"/>
<circle cx="144.2" cy="931.2" r="0.9"/>
<circle cx="149.5" cy="931.4" r="0.9"/>
<circle cx="141.4" cy="926.6" r="0.9"/>
<circle cx="152.5" cy="926.7" r="0.9"/>
<circle cx="145.1" cy="917.7" r="0.9"/>
<circle cx="151.5" cy="920.2" r="0.9"/>
<circle cx="152.5" cy="922.6" r="0.9"/>
<circle cx="146.4" cy="917.3" r="0.9"/>
<circle cx="181.9" cy="923.9" r="0.9"/>
<circle cx="181.9" cy="925.1" r="0.9"/>
<circle cx="177.8" cy="927.7" r="0.9"/>
<circle cx="181.9" cy="924.1" r="0.9"/>
<circle cx="179.1" cy="921.7" r="0.9"/>
<circle cx="175.7" cy="926.3" r="0.9"/>
<circle cx="257.6" cy="782.6" r="0.9"/>
<circle cx="246.3" cy="781.1" r="0.9"/>
<circle cx="254.0" cy="780.1" r="0.9"/>
<circle cx="249.4" cy="788.3" r="0.9"/>
<circle cx="253.7" cy="788.2" r="0.9"/>
<circle cx="244.9" cy="785.6" r="0.9"/>
<circle cx="255.7" cy="787.4" r="0.9"/>
<circle cx="265.8" cy="796.7" r="0.9"/>
<circle cx="275.6" cy="792.3" r="0.9"/>
<circle cx="267.2" cy="797.6" r="0.9"/>
<circle cx="275.7" cy="793.7" r="0.9"/>
<circle cx="275.5" cy="794.8" r="0.9"/>
<circle cx="272.8" cy="797.6" r="0.9"/>
<circle cx="271.2" cy="788.8" r="0.9"/>
<circle cx="256.2" cy="812.9" r="0.9"/>
<circle cx="258.9" cy="813.8" r="0.9"/>
<circle cx="266.1" cy="812.2" r="0.9"/>
<circle cx="267.3" cy="809.4" r="0.9"/>
<circle cx="254.6" cy="811.7" r="0.9"/>
<circle cx="262.4" cy="813.8" r="0.9"/>
<circle cx="266.9" cy="811.3" r="0.9"/>
<circle cx="273.8" cy="819.2" r="0.9"/>
<circle cx="272.0" cy="821.0" r="0.9"/>
<circle cx="268.2" cy="815.0" r="0.9"/>
<circle cx="272.4" cy="820.8" r="0.9"/>
<circle cx="273.9" cy="818.9" r="0.9"/>
<circle cx="265.9" cy="818.3" r="0.9"/>
<circle cx="307.5" cy="795.5" r="0.9"/>
<circle cx="311.5" cy="788.7" r="0.9"/>
<circle cx="310.4" cy="793.5" r="0.9"/>
<circle cx="303.5" cy="787.5" r="0.9"/>
<circle cx="308.1" cy="782.1" r="0.9"/>
<circle cx="304.1" cy="792.4" r="0.9"/>
<circle cx="311.5" cy="788.3" r="0.9"/>
<circle cx="312.5" cy="798.7" r="0.9"/>
<circle cx="319.5" cy="801.9" r="0.9"/>
<circle cx="313.5" cy="800.1" r="0.9"/>
<circle cx="325.8" cy="799.0" r="0.9"/>
<circle cx="313.3" cy="799.9" r="0.9"/>
<circle cx="319.3" cy="801.9" r="0.9"/>
<circle cx="324.4" cy="795.8" r="0.9"/>
<circle cx="332.7" cy="783.8" r="0.9"/>
<circle cx="327.2" cy="788.8" r="0.9"/>
<circle cx="334.6" cy="789.9" r="0.9"/>
<circle cx="330.8" cy="794.5" r="0.9"/>
<circle cx="331.1" cy="794.5" r="0.9"/>
<circle cx="331.9" cy="794.3" r="0.9"/>
<circle cx="331.4" cy="794.5" r="0.9"/>
<circle cx="317.5" cy="809.1" r="0.9"/>
<circle cx="317.3" cy="820.3" r="0.9"/>
<circle cx="318.7" cy="816.9" r="0.9"/>
<circle cx="318.5" cy="811.3" r="0.9"/>
<circle cx="310.5" cy="811.6" r="0.9"/>
<circle cx="318.9" cy="814.1" r="0.9"/>
<circle cx="310.9" cy="818.8" r="0.9"/>
<circle cx="336.9" cy="820.4" r="0.9"/>
<circle cx="332.7" cy="817.9" r="0.9"/>
<circle cx="335.2" cy="816.5" r="0.9"/>
<circle cx="334.3" cy="816.2" r="0.9"/>
<circle cx="331.4" cy="826.6" r="0.9"/>
<circle cx="337.0" cy="831.9" r="0.9"/>
<circle cx="335.2" cy="836.1" r="0.9"/>
<circle cx="336.6" cy="819.1" r="0.9"/>
<circle cx="326.6" cy="818.6" r="0.9"/>
<circle cx="326.9" cy="819.3" r="0.9"/>
<circle cx="322.1" cy="825.9" r="0.9"/>
<circle cx="322.0" cy="817.4" r="0.9"/>
<circle cx="324.9" cy="816.8" r="0.9"/>
<circle cx="321.8" cy="817.6" r="0.9"/>
<circle cx="286.1" cy="831.2" r="0.9"/>
<circle cx="279.1" cy="836.7" r="0.9"/>
<circle cx="281.2" cy="831.9" r="0.9"/>
<circle cx="282.1" cy="831.2" r="0.9"/>
<circle cx="283.5" cy="845.4" r="0.9"/>
<circle cx="288.5" cy="834.5" r="0.9"/>
<circle cx="288.9" cy="836.0" r="0.9"/>
<circle cx="288.6" cy="841.3" r="0.9"/>
<circle cx="304.7" cy="849.8" r="0.9"/>
<circle cx="304.7" cy="849.4" r="0.9"/>
<circle cx="294.8" cy="845.6" r="0.9"/>
<circle cx="304.6" cy="852.6" r="0.9"/>
<circle cx="303.5" cy="847.3" r="0.9"/>
<circle cx="302.8" cy="855.2" r="0.9"/>
<circle cx="304.7" cy="849.7" r="0.9"/>
<circle cx="294.8" cy="845.6" r="0.9"/>
<circle cx="321.4" cy="853.9" r="0.9"/>
<circle cx="320.4" cy="856.4" r="0.9"/>
<circle cx="317.6" cy="848.3" r="0.9"/>
<circle cx="317.1" cy="849.9" r="0.9"/>
<circle cx="319.2" cy="847.0" r="0.9"/>
<circle cx="321.3" cy="849.8" r="0.9"/>
<circle cx="218.3" cy="852.3" r="0.9"/>
<circle cx="222.3" cy="845.2" r="0.9"/>
<circle cx="221.7" cy="841.5" r="0.9"/>
<circle cx="222.3" cy="845.6" r="0.9"/>
<circle cx="220.9" cy="839.8" r="0.9"/>
<circle cx="221.0" cy="850.0" r="0.9"/>
<circle cx="219.1" cy="838.1" r="0.9"/>
<circle cx="218.3" cy="837.8" r="0.9"/>
<circle cx="246.2" cy="845.5" r="0.9"/>
<circle cx="236.1" cy="847.8" r="0.9"/>
<circle cx="246.3" cy="845.5" r="0.9"/>
<circle cx="243.7" cy="855.5" r="0.9"/>
<circle cx="239.0" cy="844.4" r="0.9"/>
<circle cx="238.9" cy="855.0" r="0.9"/>
<circle cx="246.6" cy="845.9" r="0.9"/>
<circle cx="242.8" cy="843.7" r="0.9"/>
<circle cx="210.2" cy="827.0" r="0.9"/>
<circle cx="210.2" cy="825.6" r="0.9"/>
<circle cx="214.9" cy="826.9" r="0.9"/>
<circle cx="214.9" cy="827.1" r="0.9"/>
<circle cx="210.6" cy="824.0" r="0.9"/>
<circle cx="210.2" cy="826.6" r="0.9"/>
<circle cx="204.6" cy="884.0" r="0.9"/>
<circle cx="196.4" cy="884.9" r="0.9"/>
<circle cx="204.5" cy="895.2" r="0.9"/>
<circle cx="197.1" cy="895.2" r="0.9"/>
<circle cx="201.5" cy="882.2" r="0.9"/>
<circle cx="195.2" cy="888.5" r="0.9"/>
<circle cx="206.6" cy="890.0" r="0.9"/>
<circle cx="203.9" cy="883.2" r="0.9"/>
<circle cx="218.0" cy="875.7" r="0.9"/>
<circle cx="219.6" cy="882.8" r="0.9"/>
<circle cx="212.2" cy="878.8" r="0.9"/>
<circle cx="213.1" cy="883.6" r="0.9"/>
<circle cx="217.0" cy="875.3" r="0.9"/>
<circle cx="214.6" cy="884.9" r="0.9"/>
<circle cx="216.5" cy="885.2" r="0.9"/>
<circle cx="211.2" cy="894.6" r="0.9"/>
<circle cx="223.2" cy="893.2" r="0.9"/>
<circle cx="222.3" cy="896.9" r="0.9"/>
<circle cx="221.8" cy="897.4" r="0.9"/>
<circle cx="212.9" cy="891.0" r="0.9"/>
<circle cx="221.8" cy="891.1" r="0.9"/>
<circle cx="211.2" cy="893.9" r="0.9"/>
<circle cx="226.4" cy="888.1" r="0.9"/>
<circle cx="232.7" cy="882.1" r="0.9"/>
<circle cx="230.8" cy="881.0" r="0.9"/>
<circle cx="233.8" cy="888.1" r="0.9"/>
<circle cx="233.1" cy="882.6" r="0.9"/>
<circle cx="231.5" cy="890.8" r="0.9"/>
<circle cx="228.8" cy="890.8" r="0.9"/>
<circle cx="255.9" cy="877.6" r="0.9"/>
<circle cx="246.4" cy="888.8" r="0.9"/>
<circle cx="254.4" cy="876.8" r="0.9"/>
<circle cx="255.8" cy="892.2" r="0.9"/>
<circle cx="257.2" cy="878.9" r="0.9"/>
<circle cx="255.4" cy="892.4" r="0.9"/>
<circle cx="256.4" cy="891.7" r="0.9"/>
<circle cx="245.7" cy="885.2" r="0.9"/>
<circle cx="248.8" cy="892.0" r="0.9"/>
<circle cx="268.2" cy="889.5" r="0.9"/>
<circle cx="280.2" cy="888.0" r="0.9"/>
<circle cx="273.0" cy="886.1" r="0.9"/>
<circle cx="281.4" cy="890.9" r="0.9"/>
<circle cx="272.1" cy="895.1" r="0.9"/>
<circle cx="268.2" cy="889.4" r="0.9"/>
<circle cx="268.0" cy="891.1" r="0.9"/>
<circle cx="287.4" cy="877.7" r="0.9"/>
<circle cx="282.7" cy="881.7" r="0.9"/>
<circle cx="294.1" cy="883.0" r="0.9"/>
<circle cx="288.9" cy="885.1" r="0.9"/>
<circle cx="292.2" cy="878.3" r="0.9"/>
<circle cx="285.0" cy="884.3" r="0.9"/>
<circle cx="289.4" cy="877.7" r="0.9"/>
<circle cx="309.5" cy="870.5" r="0.9"/>
<circle cx="298.1" cy="868.6" r="0.9"/>
<circle cx="299.8" cy="868.1" r="0.9"/>
<circle cx="297.6" cy="868.9" r="0.9"/>
<circle cx="300.2" cy="873.6" r="0.9"/>
<circle cx="308.6" cy="869.2" r="0.9"/>
<circle cx="296.2" cy="871.4" r="0.9"/>
<circle cx="223.2" cy="909.4" r="0.9"/>
<circle cx="213.2" cy="919.3" r="0.9"/>
<circle cx="221.8" cy="908.0" r="0.9"/>
<circle cx="218.0" cy="906.4" r="0.9"/>
<circle cx="209.7" cy="908.6" r="0.9"/>
<circle cx="208.2" cy="915.4" r="0.9"/>
<circle cx="221.4" cy="918.2" r="0.9"/>
<circle cx="217.2" cy="906.3" r="0.9"/>
<circle cx="210.6" cy="918.1" r="0.9"/>
<circle cx="234.8" cy="900.7" r="0.9"/>
<circle cx="242.9" cy="906.1" r="0.9"/>
<circle cx="244.2" cy="905.3" r="0.9"/>
<circle cx="242.5" cy="906.3" r="0.9"/>
<circle cx="240.8" cy="900.5" r="0.9"/>
<circle cx="241.3" cy="906.6" r="0.9"/>
<circle cx="243.9" cy="901.7" r="0.9"/>
<circle cx="237.2" cy="921.5" r="0.9"/>
<circle cx="235.9" cy="917.1" r="0.9"/>
<circle cx="237.9" cy="921.8" r="0.9"/>
<circle cx="237.0" cy="916.3" r="0.9"/>
<circle cx="247.5" cy="920.9" r="0.9"/>
<circle cx="236.3" cy="921.0" r="0.9"/>
<circle cx="248.1" cy="917.4" r="0.9"/>
<circle cx="260.4" cy="912.9" r="0.9"/>
<circle cx="255.4" cy="904.1" r="0.9"/>
<circle cx="255.9" cy="912.8" r="0.9"/>
<circle cx="256.7" cy="913.1" r="0.9"/>
<circle cx="263.3" cy="909.0" r="0.9"/>
<circle cx="263.3" cy="908.9" r="0.9"/>
<circle cx="263.1" cy="906.7" r="0.9"/>
<circle cx="268.9" cy="922.0" r="0.9"/>
<circle cx="268.1" cy="921.8" r="0.9"/>
<circle cx="268.3" cy="921.9" r="0.9"/>
<circle cx="271.3" cy="923.8" r="0.9"/>
<circle cx="269.2" cy="927.3" r="0.9"/>
<circle cx="262.1" cy="923.2" r="0.9"/>
<circle cx="277.3" cy="934.2" r="0.9"/>
<circle cx="277.8" cy="932.6" r="0.9"/>
<circle cx="285.8" cy="932.8" r="0.9"/>
<circle cx="282.0" cy="930.7" r="0.9"/>
<circle cx="286.0" cy="933.4" r="0.9"/>
<circle cx="285.0" cy="936.3" r="0.9"/>
<circle cx="269.8" cy="939.2" r="0.9"/>
<circle cx="270.9" cy="939.0" r="0.9"/>
<circle cx="274.4" cy="938.7" r="0.9"/>
<circle cx="268.4" cy="939.5" r="0.9"/>
<circle cx="278.8" cy="939.1" r="0.9"/>
<circle cx="271.9" cy="943.3" r="0.9"/>
<circle cx="282.3" cy="940.1" r="0.9"/>
<circle cx="291.2" cy="957.5" r="0.9"/>
<circle cx="291.2" cy="947.9" r="0.9"/>
<circle cx="295.6" cy="947.7" r="0.9"/>
<circle cx="292.6" cy="944.7" r="0.9"/>
<circle cx="292.4" cy="960.7" r="0.9"/>
<circle cx="293.8" cy="961.2" r="0.9"/>
<circle cx="292.2" cy="960.3" r="0.9"/>
<circle cx="298.8" cy="927.4" r="0.9"/>
<circle cx="308.5" cy="932.7" r="0.9"/>
<circle cx="307.4" cy="928.3" r="0.9"/>
<circle cx="298.2" cy="937.5" r="0.9"/>
<circle cx="298.1" cy="937.4" r="0.9"/>
<circle cx="305.2" cy="925.8" r="0.9"/>
<circle cx="301.6" cy="940.5" r="0.9"/>
<circle cx="297.9" cy="937.0" r="0.9"/>
<circle cx="326.6" cy="927.6" r="0.9"/>
<circle cx="323.6" cy="933.2" r="0.9"/>
<circle cx="316.6" cy="925.4" r="0.9"/>
<circle cx="319.8" cy="920.7" r="0.9"/>
<circle cx="317.7" cy="922.6" r="0.9"/>
<circle cx="318.2" cy="932.1" r="0.9"/>
<circle cx="326.4" cy="925.0" r="0.9"/>
<circle cx="329.4" cy="914.1" r="0.9"/>
<circle cx="334.2" cy="921.9" r="0.9"/>
<circle cx="335.5" cy="919.8" r="0.9"/>
<circle cx="335.8" cy="916.8" r="0.9"/>
<circle cx="335.8" cy="917.3" r="0.9"/>
<circle cx="335.3" cy="915.2" r="0.9"/>
<circle cx="318.9" cy="948.7" r="0.9"/>
<circle cx="320.3" cy="959.1" r="0.9"/>
<circle cx="324.4" cy="956.5" r="0.9"/>
<circle cx="321.4" cy="959.6" r="0.9"/>
<circle cx="322.1" cy="959.5" r="0.9"/>
<circle cx="324.6" cy="949.9" r="0.9"/>
<circle cx="324.2" cy="948.6" r="0.9"/>
<circle cx="332.8" cy="950.9" r="0.9"/>
<circle cx="334.5" cy="962.9" r="0.9"/>
<circle cx="332.4" cy="964.2" r="0.9"/>
<circle cx="330.9" cy="963.9" r="0.9"/>
<circle cx="335.9" cy="955.3" r="0.9"/>
<circle cx="334.2" cy="963.3" r="0.9"/>
<circle cx="333.1" cy="951.0" r="0.9"/>
<circle cx="181.1" cy="953.2" r="0.9"/>
<circle cx="178.4" cy="956.1" r="0.9"/>
<circle cx="188.2" cy="956.3" r="0.9"/>
<circle cx="182.9" cy="962.2" r="0.9"/>
<circle cx="178.3" cy="956.8" r="0.9"/>
<circle cx="186.1" cy="961.5" r="0.9"/>
<circle cx="187.4" cy="960.2" r="0.9"/>
<circle cx="194.6" cy="967.6" r="0.9"/>
<circle cx="188.5" cy="970.3" r="0.9"/>
<circle cx="193.5" cy="969.5" r="0.9"/>
<circle cx="194.4" cy="968.3" r="0.9"/>
<circle cx="194.7" cy="966.7" r="0.9"/>
<circle cx="189.2" cy="970.5" r="0.9"/>
<circle cx="142.7" cy="939.4" r="0.9"/>
<circle cx="137.2" cy="938.5" r="0.9"/>
<circle cx="138.2" cy="938.4" r="0.9"/>
<circle cx="135.9" cy="938.9" r="0.9"/>
<circle cx="143.6" cy="940.3" r="0.9"/>
<circle cx="142.4" cy="939.2" r="0.9"/>
<circle cx="175.7" cy="922.1" r="0.9"/>
<circle cx="173.7" cy="923.7" r="0.9"/>
<circle cx="175.3" cy="922.2" r="0.9"/>
<circle cx="175.8" cy="922.0" r="0.9"/>
<circle cx="173.7" cy="923.8" r="0.9"/>
<circle cx="328.7" cy="884.8" r="0.9"/>
<circle cx="334.0" cy="887.6" r="0.9"/>
<circle cx="334.0" cy="882.1" r="0.9"/>
<circle cx="328.7" cy="885.2" r="0.9"/>
<circle cx="335.2" cy="886.3" r="0.9"/>
<circle cx="333.8" cy="887.8" r="0.9"/>
<circle cx="214.0" cy="967.3" r="0.9"/>
<circle cx="211.3" cy="971.9" r="0.9"/>
<circle cx="208.5" cy="970.9" r="0.9"/>
<circle cx="209.9" cy="966.8" r="0.9"/>
<circle cx="213.8" cy="967.2" r="0.9"/>
<circle cx="209.6" cy="971.6" r="0.9"/>
<circle cx="220.6" cy="976.1" r="0.9"/>
<circle cx="220.1" cy="975.5" r="0.9"/>
<circle cx="226.4" cy="974.5" r="0.9"/>
<circle cx="225.5" cy="971.6" r="0.9"/>
<circle cx="226.5" cy="974.3" r="0.9"/>
<circle cx="226.4" cy="973.1" r="0.9"/>
<circle cx="140.9" cy="977.5" r="0.9"/>
<circle cx="140.8" cy="977.6" r="0.9"/>
<circle cx="140.9" cy="970.3" r="0.9"/>
<circle cx="140.4" cy="970.0" r="0.9"/>
<circle cx="139.2" cy="978.3" r="0.9"/>
<circle cx="135.2" cy="972.5" r="0.9"/>
<circle cx="284.9" cy="969.7" r="0.9"/>
<circle cx="287.0" cy="966.3" r="0.9"/>
<circle cx="288.6" cy="972.0" r="0.9"/>
<circle cx="288.8" cy="966.5" r="0.9"/>
<circle cx="290.3" cy="969.2" r="0.9"/>
</g>
<g clip-path="url(#c4)" fill="#9a80bf" stroke="#6f52a2" stroke-width="0.9" opacity="0.85" filter="url(#soft0)"><circle cx="570.7" cy="805.9" r="2.9"/><circle cx="363.4" cy="979.7" r="2.8"/><circle cx="399.1" cy="801.9" r="2.2"/><circle cx="502.7" cy="847.5" r="2.8"/><circle cx="555.5" cy="824.4" r="2.8"/><circle cx="571.0" cy="842.2" r="1.9"/><circle cx="491.5" cy="966.2" r="2.4"/><circle cx="510.2" cy="964.6" r="2.8"/><circle cx="515.3" cy="787.3" r="2.3"/><circle cx="553.7" cy="896.9" r="2.2"/><circle cx="427.1" cy="816.0" r="2.4"/><circle cx="566.2" cy="934.2" r="2.8"/><circle cx="571.4" cy="892.2" r="1.9"/><circle cx="513.1" cy="901.5" r="2.6"/><circle cx="415.5" cy="971.2" r="2.6"/><circle cx="427.5" cy="935.7" r="2.9"/><circle cx="569.9" cy="909.3" r="2.6"/><circle cx="389.7" cy="944.6" r="2.2"/><circle cx="506.3" cy="815.0" r="2.6"/><circle cx="369.1" cy="885.2" r="2.7"/><circle cx="365.4" cy="964.8" r="2.0"/><circle cx="470.5" cy="882.3" r="2.7"/><circle cx="449.0" cy="911.4" r="2.5"/><circle cx="561.5" cy="839.7" r="2.5"/><circle cx="441.1" cy="895.5" r="2.6"/><circle cx="424.1" cy="898.1" r="2.5"/><circle cx="478.7" cy="865.3" r="2.0"/><circle cx="507.5" cy="884.5" r="2.0"/><circle cx="377.7" cy="979.3" r="1.9"/><circle cx="437.1" cy="864.9" r="2.2"/><circle cx="447.5" cy="965.7" r="2.1"/><circle cx="569.4" cy="881.2" r="2.5"/><circle cx="447.1" cy="797.1" r="2.0"/><circle cx="556.8" cy="812.2" r="2.0"/><circle cx="479.4" cy="848.2" r="2.4"/><circle cx="431.0" cy="849.8" r="2.7"/><circle cx="400.6" cy="785.0" r="2.4"/><circle cx="477.0" cy="938.7" r="1.9"/><circle cx="449.3" cy="945.2" r="2.9"/><circle cx="562.5" cy="870.8" r="2.5"/><circle cx="546.0" cy="878.5" r="2.9"/><circle cx="474.4" cy="895.9" r="2.7"/><circle cx="578.1" cy="928.1" r="2.8"/><circle cx="463.1" cy="924.8" r="2.8"/><circle cx="532.1" cy="943.5" r="2.7"/><circle cx="362.2" cy="878.8" r="2.8"/><circle cx="396.2" cy="917.6" r="2.6"/><circle cx="454.5" cy="832.0" r="2.9"/><circle cx="367.5" cy="973.3" r="2.9"/><circle cx="436.3" cy="801.4" r="2.1"/><circle cx="406.2" cy="829.1" r="2.4"/><circle cx="419.5" cy="797.2" r="2.9"/><circle cx="462.4" cy="819.6" r="2.6"/><circle cx="434.5" cy="926.3" r="2.5"/><circle cx="563.4" cy="946.4" r="2.3"/><circle cx="366.7" cy="854.0" r="2.0"/><circle cx="546.5" cy="784.2" r="2.3"/><circle cx="403.3" cy="876.7" r="1.9"/><circle cx="443.0" cy="929.4" r="2.1"/><circle cx="517.5" cy="871.6" r="2.4"/><circle cx="413.4" cy="824.2" r="2.4"/><circle cx="555.5" cy="908.3" r="2.6"/><circle cx="492.1" cy="786.1" r="2.5"/><circle cx="466.2" cy="783.5" r="2.7"/><circle cx="528.2" cy="778.3" r="2.5"/><circle cx="498.4" cy="977.1" r="2.7"/><circle cx="545.9" cy="824.7" r="1.9"/><circle cx="476.8" cy="805.8" r="2.4"/><circle cx="434.1" cy="952.4" r="2.9"/><circle cx="539.6" cy="779.3" r="2.7"/><circle cx="442.5" cy="907.1" r="2.8"/><circle cx="397.1" cy="940.0" r="2.9"/><circle cx="556.3" cy="889.2" r="2.0"/><circle cx="471.9" cy="815.6" r="2.4"/><circle cx="419.8" cy="809.7" r="2.8"/><circle cx="512.7" cy="943.0" r="2.2"/><circle cx="574.2" cy="816.1" r="2.4"/><circle cx="448.2" cy="954.5" r="2.1"/><circle cx="527.1" cy="855.8" r="2.0"/><circle cx="442.4" cy="825.3" r="2.9"/><circle cx="473.0" cy="973.8" r="2.7"/><circle cx="392.1" cy="890.4" r="2.7"/><circle cx="541.2" cy="797.5" r="2.8"/><circle cx="373.0" cy="813.6" r="2.5"/><circle cx="559.9" cy="860.9" r="2.8"/><circle cx="496.3" cy="927.3" r="2.7"/><circle cx="431.9" cy="974.0" r="2.4"/><circle cx="567.1" cy="924.7" r="2.4"/><circle cx="558.1" cy="939.7" r="2.1"/><circle cx="424.4" cy="782.3" r="2.3"/><circle cx="428.3" cy="798.4" r="2.8"/><circle cx="456.9" cy="844.8" r="1.9"/><circle cx="450.2" cy="849.2" r="2.9"/><circle cx="538.6" cy="839.6" r="2.1"/><circle cx="478.2" cy="955.3" r="2.4"/><circle cx="570.9" cy="853.4" r="2.2"/><circle cx="386.6" cy="825.9" r="1.9"/><circle cx="464.8" cy="939.8" r="2.5"/><circle cx="470.1" cy="791.5" r="2.1"/><circle cx="561.0" cy="895.5" r="2.3"/><circle cx="460.0" cy="905.2" r="2.8"/><circle cx="369.0" cy="916.5" r="2.4"/><circle cx="537.4" cy="913.3" r="2.2"/><circle cx="438.2" cy="835.4" r="2.0"/><circle cx="360.5" cy="794.1" r="1.9"/><circle cx="392.5" cy="869.3" r="2.7"/><circle cx="530.8" cy="821.5" r="2.4"/><circle cx="425.5" cy="826.0" r="2.2"/><circle cx="433.0" cy="858.1" r="2.7"/><circle cx="481.8" cy="812.9" r="2.4"/><circle cx="416.3" cy="953.4" r="2.1"/><circle cx="475.8" cy="915.6" r="2.9"/><circle cx="485.3" cy="899.4" r="2.3"/><circle cx="411.4" cy="889.7" r="2.2"/><circle cx="436.8" cy="939.1" r="2.9"/><circle cx="440.9" cy="975.8" r="2.3"/><circle cx="487.0" cy="823.6" r="2.4"/><circle cx="492.4" cy="839.9" r="2.8"/><circle cx="530.5" cy="803.2" r="2.6"/><circle cx="509.1" cy="922.1" r="2.1"/><circle cx="409.9" cy="803.9" r="1.9"/><circle cx="416.1" cy="779.3" r="1.9"/><circle cx="456.1" cy="941.3" r="2.0"/><circle cx="393.2" cy="968.0" r="2.7"/><circle cx="380.4" cy="852.6" r="2.3"/><circle cx="376.9" cy="879.0" r="2.4"/><circle cx="414.5" cy="867.5" r="2.2"/><circle cx="458.2" cy="918.7" r="1.9"/><circle cx="398.1" cy="951.4" r="2.9"/><circle cx="369.4" cy="802.4" r="2.6"/><circle cx="373.7" cy="944.8" r="2.6"/><circle cx="478.2" cy="964.6" r="2.6"/><circle cx="453.7" cy="925.8" r="1.9"/><circle cx="409.5" cy="940.1" r="2.8"/><circle cx="448.6" cy="786.0" r="2.8"/><circle cx="434.4" cy="891.0" r="2.1"/><circle cx="390.7" cy="960.8" r="2.8"/><circle cx="558.8" cy="917.2" r="2.9"/><circle cx="569.5" cy="963.7" r="2.1"/><circle cx="458.4" cy="855.4" r="2.9"/><circle cx="374.5" cy="902.9" r="1.9"/><circle cx="547.8" cy="856.2" r="2.7"/><circle cx="534.2" cy="811.9" r="2.9"/><circle cx="420.8" cy="907.6" r="2.0"/><circle cx="428.2" cy="946.0" r="2.4"/><circle cx="459.1" cy="811.0" r="1.9"/><circle cx="415.9" cy="930.9" r="2.4"/><circle cx="534.3" cy="905.3" r="1.9"/><circle cx="520.7" cy="851.9" r="2.4"/><circle cx="407.4" cy="815.7" r="2.1"/><circle cx="557.5" cy="926.8" r="2.1"/><circle cx="537.7" cy="883.9" r="2.6"/><circle cx="554.3" cy="874.4" r="2.1"/><circle cx="363.8" cy="807.9" r="2.0"/><circle cx="408.9" cy="848.8" r="2.2"/><circle cx="450.1" cy="807.9" r="2.3"/><circle cx="504.1" cy="826.5" r="2.6"/><circle cx="385.4" cy="837.2" r="2.5"/><circle cx="564.9" cy="823.6" r="2.5"/><circle cx="369.3" cy="876.0" r="2.6"/><circle cx="487.9" cy="800.1" r="2.2"/><circle cx="450.9" cy="933.2" r="2.6"/><circle cx="358.5" cy="923.0" r="1.9"/><circle cx="466.2" cy="871.5" r="2.0"/><circle cx="472.2" cy="826.0" r="2.5"/><circle cx="393.4" cy="788.7" r="2.6"/><circle cx="481.4" cy="879.5" r="2.2"/><circle cx="490.4" cy="914.5" r="2.9"/><circle cx="380.0" cy="800.1" r="2.0"/><circle cx="468.7" cy="954.2" r="2.7"/><circle cx="546.6" cy="951.9" r="2.5"/><circle cx="575.3" cy="832.2" r="2.5"/><circle cx="374.3" cy="927.2" r="2.3"/><circle cx="572.5" cy="938.3" r="1.9"/><circle cx="526.9" cy="928.2" r="2.3"/><circle cx="467.5" cy="979.8" r="2.6"/><circle cx="531.0" cy="795.2" r="2.7"/><circle cx="436.7" cy="875.4" r="2.8"/><circle cx="467.7" cy="916.2" r="2.2"/><circle cx="446.0" cy="862.4" r="2.4"/><circle cx="362.2" cy="911.5" r="2.0"/><circle cx="509.9" cy="834.2" r="2.3"/><circle cx="448.0" cy="872.0" r="2.3"/><circle cx="520.9" cy="974.0" r="2.7"/><circle cx="524.6" cy="881.8" r="2.0"/><circle cx="387.1" cy="936.3" r="1.9"/><circle cx="386.9" cy="793.0" r="2.5"/><circle cx="522.0" cy="952.6" r="2.7"/><circle cx="479.0" cy="923.8" r="2.0"/><circle cx="446.7" cy="832.5" r="2.6"/><circle cx="496.9" cy="904.4" r="2.0"/><circle cx="387.0" cy="859.2" r="2.8"/><circle cx="475.8" cy="796.3" r="2.6"/><circle cx="532.4" cy="867.8" r="2.1"/><circle cx="469.8" cy="929.4" r="2.3"/><circle cx="490.6" cy="890.9" r="2.8"/><circle cx="409.6" cy="796.1" r="2.9"/><circle cx="363.0" cy="839.3" r="1.9"/><circle cx="577.1" cy="944.5" r="2.3"/><circle cx="487.7" cy="866.6" r="2.0"/><circle cx="482.9" cy="947.6" r="2.9"/><circle cx="432.4" cy="809.1" r="2.9"/><circle cx="380.6" cy="892.4" r="2.3"/><circle cx="532.6" cy="878.5" r="2.8"/><circle cx="431.6" cy="906.7" r="2.1"/><circle cx="501.2" cy="934.6" r="2.8"/><circle cx="576.9" cy="799.1" r="2.1"/><circle cx="452.8" cy="902.3" r="2.2"/><circle cx="424.5" cy="867.9" r="2.4"/><circle cx="498.4" cy="885.2" r="2.7"/><circle cx="535.8" cy="958.0" r="2.4"/><circle cx="465.2" cy="801.4" r="2.0"/><circle cx="513.1" cy="857.7" r="1.9"/><circle cx="494.2" cy="861.2" r="2.0"/><circle cx="377.9" cy="916.8" r="2.2"/><circle cx="496.6" cy="946.1" r="2.6"/><circle cx="367.2" cy="905.8" r="2.1"/><circle cx="534.2" cy="786.3" r="2.9"/><circle cx="378.2" cy="830.5" r="2.6"/><circle cx="550.9" cy="848.2" r="2.2"/><circle cx="464.5" cy="897.0" r="2.5"/><circle cx="420.9" cy="861.4" r="2.8"/><circle cx="545.1" cy="813.3" r="2.2"/><circle cx="576.8" cy="978.3" r="2.6"/><circle cx="385.8" cy="922.6" r="2.6"/><circle cx="380.3" cy="961.9" r="2.8"/><circle cx="441.0" cy="851.1" r="2.6"/><circle cx="509.1" cy="872.3" r="1.9"/><circle cx="545.1" cy="928.7" r="2.8"/><circle cx="534.4" cy="934.3" r="2.1"/><circle cx="572.9" cy="791.1" r="2.5"/><circle cx="412.1" cy="858.9" r="2.0"/><circle cx="547.5" cy="965.9" r="2.7"/><circle cx="558.8" cy="787.9" r="2.8"/><circle cx="368.5" cy="934.7" r="2.7"/><circle cx="402.4" cy="864.5" r="2.6"/><circle cx="466.0" cy="843.3" r="2.9"/><circle cx="548.0" cy="977.3" r="2.4"/><circle cx="456.4" cy="875.3" r="2.8"/><circle cx="571.2" cy="867.2" r="2.2"/><circle cx="518.7" cy="934.6" r="2.0"/><circle cx="534.9" cy="967.8" r="2.1"/><circle cx="518.2" cy="809.5" r="2.3"/><circle cx="495.3" cy="807.4" r="2.7"/><circle cx="386.3" cy="884.1" r="2.7"/><circle cx="527.6" cy="837.8" r="2.2"/><circle cx="463.9" cy="827.4" r="2.7"/><circle cx="402.1" cy="905.5" r="2.8"/><circle cx="482.9" cy="975.1" r="2.3"/><circle cx="375.1" cy="846.6" r="2.6"/><circle cx="450.6" cy="839.5" r="2.2"/><circle cx="490.3" cy="938.0" r="2.3"/><circle cx="439.0" cy="961.9" r="2.1"/><circle cx="540.7" cy="864.5" r="2.2"/><circle cx="506.4" cy="949.1" r="2.0"/><circle cx="427.9" cy="789.7" r="2.3"/><circle cx="498.2" cy="961.0" r="2.7"/><circle cx="539.0" cy="855.0" r="2.1"/><circle cx="550.1" cy="941.5" r="2.1"/><circle cx="396.1" cy="844.2" r="2.8"/><circle cx="420.4" cy="836.6" r="2.2"/><circle cx="487.9" cy="851.0" r="2.1"/><circle cx="578.5" cy="778.3" r="2.1"/><circle cx="515.7" cy="909.3" r="1.9"/><circle cx="468.1" cy="965.6" r="2.8"/><circle cx="468.9" cy="906.4" r="2.7"/><circle cx="425.6" cy="978.7" r="2.9"/><circle cx="364.3" cy="957.5" r="2.8"/><circle cx="381.9" cy="780.9" r="2.5"/><circle cx="411.7" cy="875.8" r="2.9"/><circle cx="550.2" cy="918.2" r="2.1"/><circle cx="550.3" cy="864.7" r="2.7"/><circle cx="358.3" cy="833.3" r="2.7"/><circle cx="554.4" cy="969.6" r="2.0"/><circle cx="512.7" cy="847.6" r="2.9"/><circle cx="440.9" cy="919.4" r="2.9"/><circle cx="401.2" cy="835.8" r="2.1"/><circle cx="376.5" cy="859.9" r="2.1"/><circle cx="379.7" cy="934.7" r="2.0"/><circle cx="508.2" cy="791.2" r="2.1"/><circle cx="360.8" cy="892.9" r="2.2"/><circle cx="564.9" cy="795.1" r="2.7"/><circle cx="557.2" cy="780.4" r="2.1"/><circle cx="397.6" cy="812.3" r="2.1"/><circle cx="374.8" cy="791.8" r="2.6"/><circle cx="420.1" cy="942.5" r="2.7"/><circle cx="540.8" cy="943.1" r="1.9"/><circle cx="454.3" cy="867.5" r="2.7"/><circle cx="468.3" cy="861.4" r="2.6"/><circle cx="518.3" cy="829.4" r="2.2"/><circle cx="506.1" cy="778.1" r="2.4"/><circle cx="453.5" cy="977.9" r="1.9"/><circle cx="383.3" cy="816.0" r="2.3"/><circle cx="391.5" cy="909.2" r="1.9"/><circle cx="520.0" cy="778.6" r="2.7"/><circle cx="502.7" cy="915.7" r="2.4"/><circle cx="548.2" cy="802.4" r="2.1"/><circle cx="578.4" cy="871.3" r="2.1"/><circle cx="411.4" cy="903.6" r="2.5"/><circle cx="483.1" cy="782.7" r="2.2"/><circle cx="552.1" cy="959.1" r="2.7"/><circle cx="393.5" cy="901.7" r="2.5"/><circle cx="452.2" cy="894.0" r="2.7"/><circle cx="393.2" cy="975.5" r="2.0"/><circle cx="481.0" cy="831.3" r="2.1"/><circle cx="443.4" cy="811.0" r="2.9"/><circle cx="493.8" cy="831.3" r="2.6"/><circle cx="579.3" cy="847.3" r="2.3"/><circle cx="406.9" cy="926.5" r="2.9"/><circle cx="504.1" cy="900.5" r="1.9"/></g>
<g clip-path="url(#c4)" filter="url(#soft)">
<ellipse cx="381.6" cy="802.1" rx="12.2" ry="4.4" fill="#d81b8c" transform="rotate(-10 381.6 802.1)" opacity="0.7"/>
<ellipse cx="395.0" cy="815.5" rx="9.8" ry="2.9" fill="#d81b8c" transform="rotate(-20 395.0 815.5)" opacity="0.7"/>
<ellipse cx="485.4" cy="797.2" rx="8.3" ry="3.9" fill="#d81b8c" transform="rotate(10 485.4 797.2)" opacity="0.7"/>
<ellipse cx="513.5" cy="799.6" rx="3.9" ry="7.3" fill="#d81b8c" transform="rotate(-10 513.5 799.6)" opacity="0.7"/>
<ellipse cx="552.5" cy="794.7" rx="3.4" ry="9.8" fill="#d81b8c" opacity="0.7"/>
<ellipse cx="452.4" cy="819.2" rx="7.3" ry="5.4" fill="#d81b8c" transform="rotate(20 452.4 819.2)" opacity="0.7"/>
<ellipse cx="518.3" cy="828.9" rx="5.9" ry="3.9" fill="#d81b8c" opacity="0.7"/>
<ellipse cx="564.7" cy="824.0" rx="4.4" ry="9.8" fill="#d81b8c" transform="rotate(10 564.7 824.0)" opacity="0.7"/>
<ellipse cx="515.9" cy="855.8" rx="9.8" ry="3.9" fill="#d81b8c" transform="rotate(10 515.9 855.8)" opacity="0.7"/>
<ellipse cx="410.9" cy="854.6" rx="7.3" ry="3.9" fill="#d81b8c" transform="rotate(20 410.9 854.6)" opacity="0.7"/>
<ellipse cx="435.3" cy="868.0" rx="9.8" ry="4.4" fill="#d81b8c" transform="rotate(15 435.3 868.0)" opacity="0.7"/>
<ellipse cx="573.3" cy="870.4" rx="3.9" ry="10.7" fill="#d81b8c" opacity="0.7"/>
<ellipse cx="523.2" cy="890.0" rx="8.3" ry="4.4" fill="#d81b8c" transform="rotate(-10 523.2 890.0)" opacity="0.7"/>
<ellipse cx="464.6" cy="914.4" rx="9.8" ry="7.3" fill="#d81b8c" transform="rotate(30 464.6 914.4)" opacity="0.7"/>
<ellipse cx="384.1" cy="909.5" rx="14.6" ry="2.9" fill="#d81b8c" transform="rotate(-5 384.1 909.5)" opacity="0.7"/>
<ellipse cx="408.5" cy="911.9" rx="14.6" ry="3.4" fill="#d81b8c" transform="rotate(-15 408.5 911.9)" opacity="0.7"/>
<ellipse cx="374.3" cy="931.5" rx="7.3" ry="2.9" fill="#d81b8c" transform="rotate(-30 374.3 931.5)" opacity="0.7"/>
<ellipse cx="376.7" cy="951.0" rx="3.4" ry="14.6" fill="#d81b8c" transform="rotate(-10 376.7 951.0)" opacity="0.7"/>
<ellipse cx="432.9" cy="929.0" rx="8.3" ry="3.4" fill="#d81b8c" opacity="0.7"/>
<ellipse cx="425.6" cy="953.4" rx="9.8" ry="3.4" fill="#d81b8c" transform="rotate(10 425.6 953.4)" opacity="0.7"/>
<ellipse cx="569.6" cy="933.9" rx="8.3" ry="3.4" fill="#d81b8c" opacity="0.7"/>
<ellipse cx="525.7" cy="937.6" rx="5.9" ry="5.4" fill="#d81b8c" opacity="0.7"/>
<ellipse cx="401.2" cy="943.7" rx="2.9" ry="9.8" fill="#d81b8c" transform="rotate(10 401.2 943.7)" opacity="0.7"/>
<ellipse cx="367.0" cy="965.6" rx="2.9" ry="12.2" fill="#d81b8c" transform="rotate(-10 367.0 965.6)" opacity="0.7"/>
<ellipse cx="496.4" cy="955.9" rx="2.9" ry="12.2" fill="#d81b8c" transform="rotate(15 496.4 955.9)" opacity="0.7"/>
<ellipse cx="415.8" cy="885.1" rx="9.8" ry="7.3" fill="#d81b8c" opacity="0.7"/>
<ellipse cx="489.5" cy="823.3" rx="17.5" ry="12.5" fill="#fbeeea" transform="rotate(-5 489.5 823.3)" />
<path d="M420.1,811.2Q419.5,805.7 425.0,803.9Q430.4,802.1 433.9,806.9Q437.3,811.8 436.9,817.3Q436.6,822.8 432.3,823.4Q428.0,824.0 424.3,820.4Q420.7,816.7 420.1,811.2Z" fill="#fbeeea" />
<path d="M457.3,806.3Q456.1,803.3 460.4,799.0Q464.6,794.7 468.3,800.2Q472.0,805.7 469.5,807.8Q467.1,809.9 462.8,809.6Q458.5,809.4 457.3,806.3Z" fill="#fbeeea" />
<ellipse cx="387.7" cy="858.7" rx="10.0" ry="11.5" fill="#fbeeea" />
<ellipse cx="372.3" cy="883.8" rx="11.5" ry="13.5" fill="#fbeeea" />
<path d="M542.8,890.0Q544.0,885.1 550.7,886.3Q557.4,887.5 561.7,893.6Q565.9,899.7 565.3,905.8Q564.7,911.9 560.5,915.6Q556.2,919.2 551.9,921.7Q547.6,924.1 545.2,919.2Q542.8,914.4 545.2,908.3Q547.6,902.2 544.6,898.5Q541.5,894.8 542.8,890.0Z" fill="#fbeeea" />
<path d="M538.5,836.9Q536.7,830.1 543.4,829.5Q550.1,828.9 551.3,835.0Q552.5,841.1 546.4,842.3Q540.3,843.6 538.5,836.9Z" fill="#fbeeea" opacity="0.8"/>
<path d="M539.1,861.3Q537.9,852.1 544.6,851.5Q551.3,850.9 551.9,859.4Q552.5,868.0 546.4,869.2Q540.3,870.4 539.1,861.3Z" fill="#fbeeea" opacity="0.9"/>
<ellipse cx="493.2" cy="870.4" rx="8.0" ry="7.5" fill="#fbeeea" />
<ellipse cx="480.5" cy="896.1" rx="8.5" ry="8.5" fill="#fbeeea" />
<path d="M482.9,927.8Q481.7,921.7 486.6,922.3Q491.5,922.9 493.9,928.4Q496.4,933.9 493.9,936.3Q491.5,938.8 487.8,936.3Q484.2,933.9 482.9,927.8Z" fill="#fbeeea" />
<ellipse cx="511.0" cy="904.6" rx="5.0" ry="5.0" fill="#fbeeea" />
<path d="M442.7,846.9Q442.7,844.8 452.4,846.0Q462.2,847.2 472.0,847.8Q481.7,848.4 481.7,850.6Q481.7,852.8 472.0,853.3Q462.2,853.8 452.4,851.4Q442.7,848.9 442.7,846.9Z" fill="#f8c8dc" />
<path d="M455.5,970.2Q454.9,964.4 462.8,963.8Q470.7,963.2 471.3,969.1Q472.0,974.9 464.0,975.4Q456.1,975.9 455.5,970.2Z" fill="#fbeeea" />
<path d="M568.0,795.7Q567.7,787.4 573.5,786.8Q579.4,786.2 580.0,795.3Q580.6,804.5 574.5,804.3Q568.4,804.0 568.0,795.7Z" fill="#fbeeea" />
<path d="M570.2,958.1Q569.6,951.0 574.5,951.2Q579.4,951.5 579.4,958.6Q579.4,965.6 575.1,965.4Q570.8,965.1 570.2,958.1Z" fill="#fbeeea" />
<path d="M525.1,805.5Q524.4,799.6 530.5,799.4Q536.7,799.1 537.3,805.5Q537.9,811.8 531.8,811.6Q525.7,811.3 525.1,805.5Z" fill="#fbeeea" opacity="0.85"/>
<path d="M462.4,876.4Q462.2,874.1 467.1,873.5Q472.0,872.9 472.2,875.3Q472.4,877.7 467.6,878.2Q462.7,878.7 462.4,876.4Z" fill="#fbeeea" />
<path d="M446.0,924.4Q446.3,916.8 448.4,916.6Q450.5,916.3 449.6,925.1Q448.8,933.9 443.9,936.6Q439.0,939.3 438.1,938.0Q437.3,936.8 441.4,934.4Q445.6,931.9 446.0,924.4Z" fill="#fbeeea" />
<path d="M406.3,829.2Q406.0,827.0 410.9,826.5Q415.8,826.0 416.0,828.2Q416.3,830.4 411.4,830.9Q406.5,831.4 406.3,829.2Z" fill="#fbeeea" />
<path d="M535.7,902.4Q535.4,899.7 537.9,899.1Q540.3,898.5 540.9,901.5Q541.5,904.6 538.7,904.8Q535.9,905.1 535.7,902.4Z" fill="#fbeeea" />
<path d="M359.9,782.3Q359.6,777.6 362.1,777.4Q364.5,777.2 365.1,781.7Q365.8,786.2 362.9,786.6Q360.1,786.9 359.9,782.3Z" fill="#fbeeea" />
<path d="M358.8,957.7Q358.4,951.0 360.3,951.6Q362.1,952.2 362.3,958.9Q362.6,965.6 360.9,965.0Q359.2,964.4 358.8,957.7Z" fill="#fbeeea" opacity="0.8"/>
<path d="M394.8,966.9Q395.0,963.2 397.1,963.8Q399.2,964.4 398.3,968.7Q397.5,973.0 396.0,971.7Q394.6,970.5 394.8,966.9Z" fill="#fbeeea" />
</g>
<rect x="531.8" y="965.0" width="39.1" height="1.9" fill="#fff"/>
<text transform="translate(227.30,540.60) scale(1.045,1)" font-size="22" font-weight="bold" text-anchor="middle" stroke="#000" stroke-width="1.1" stroke-linejoin="round">20x</text>
<text transform="translate(464.60,538.30) scale(1.045,1)" font-size="22" font-weight="bold" text-anchor="middle" stroke="#000" stroke-width="1.1" stroke-linejoin="round">40x</text>
<text transform="translate(54.20,646.70) scale(1.056,1)" font-size="22" font-weight="bold" text-anchor="start" stroke="#000" stroke-width="1.1" stroke-linejoin="round">APC</text>
<text transform="translate(54.20,673.60) scale(1.098,1)" font-size="22" font-weight="bold" text-anchor="start" stroke="#000" stroke-width="1.1" stroke-linejoin="round">+Stx2:</text>
<text transform="translate(54.20,849.20) scale(1.05,1)" font-size="22" font-weight="bold" text-anchor="start" stroke="#000" stroke-width="1.1" stroke-linejoin="round">Stx2</text>
<text transform="translate(54.20,876.00) scale(1.078,1)" font-size="22" font-weight="bold" text-anchor="start" stroke="#000" stroke-width="1.1" stroke-linejoin="round">Only:</text>
<line x1="705.50" y1="930.50" x2="705.50" y2="915.30" stroke="#000" stroke-width="3.2" />
<line x1="695.25" y1="915.30" x2="715.75" y2="915.30" stroke="#000" stroke-width="3.2" />
<line x1="763.90" y1="893.60" x2="763.90" y2="819.80" stroke="#000" stroke-width="3.2" />
<line x1="753.65" y1="819.80" x2="774.15" y2="819.80" stroke="#000" stroke-width="3.2" />
<line x1="861.50" y1="839.00" x2="861.50" y2="819.00" stroke="#000" stroke-width="3.2" />
<line x1="851.25" y1="819.00" x2="871.75" y2="819.00" stroke="#000" stroke-width="3.2" />
<line x1="920.30" y1="860.90" x2="920.30" y2="815.00" stroke="#000" stroke-width="3.2" />
<line x1="910.05" y1="815.00" x2="930.55" y2="815.00" stroke="#000" stroke-width="3.2" />
<rect x="684.75" y="930.00" width="41.50" height="20.50" fill="#000"/>
<rect x="744.85" y="894.80" width="38.10" height="55.70" fill="#fff" stroke="#000" stroke-width="3.4"/>
<path d="M744.85,947.90H782.95M744.85,943.45H782.95M744.85,939.00H782.95M744.85,934.55H782.95M744.85,930.10H782.95M744.85,925.65H782.95M744.85,921.20H782.95M744.85,916.75H782.95M744.85,912.30H782.95M744.85,907.85H782.95M744.85,903.40H782.95M744.85,898.95H782.95" stroke="#000" stroke-width="1.5" fill="none"/>
<rect x="840.75" y="838.50" width="41.50" height="112.00" fill="#000"/>
<rect x="901.25" y="862.10" width="38.10" height="88.40" fill="#fff" stroke="#000" stroke-width="3.4"/>
<path d="M901.25,947.90H939.35M901.25,943.45H939.35M901.25,939.00H939.35M901.25,934.55H939.35M901.25,930.10H939.35M901.25,925.65H939.35M901.25,921.20H939.35M901.25,916.75H939.35M901.25,912.30H939.35M901.25,907.85H939.35M901.25,903.40H939.35M901.25,898.95H939.35M901.25,894.50H939.35M901.25,890.05H939.35M901.25,885.60H939.35M901.25,881.15H939.35M901.25,876.70H939.35M901.25,872.25H939.35M901.25,867.80H939.35" stroke="#000" stroke-width="1.5" fill="none"/>
<line x1="656.70" y1="739.80" x2="656.70" y2="951.60" stroke="#000" stroke-width="2.2" />
<line x1="655.60" y1="950.50" x2="969.30" y2="950.50" stroke="#000" stroke-width="2.2" />
<line x1="650.80" y1="950.50" x2="656.70" y2="950.50" stroke="#000" stroke-width="2.2" />
<text x="649.10" y="956.01" font-size="15.3" font-weight="bold" text-anchor="end" >0</text>
<line x1="650.80" y1="897.90" x2="656.70" y2="897.90" stroke="#000" stroke-width="2.2" />
<text x="649.10" y="903.41" font-size="15.3" font-weight="bold" text-anchor="end" >2</text>
<line x1="650.80" y1="845.70" x2="656.70" y2="845.70" stroke="#000" stroke-width="2.2" />
<text x="649.10" y="851.21" font-size="15.3" font-weight="bold" text-anchor="end" >4</text>
<line x1="650.80" y1="793.50" x2="656.70" y2="793.50" stroke="#000" stroke-width="2.2" />
<text x="649.10" y="799.01" font-size="15.3" font-weight="bold" text-anchor="end" >6</text>
<line x1="650.80" y1="740.90" x2="656.70" y2="740.90" stroke="#000" stroke-width="2.2" />
<text x="649.10" y="746.41" font-size="15.3" font-weight="bold" text-anchor="end" >8</text>
<line x1="734.60" y1="950.50" x2="734.60" y2="956.50" stroke="#000" stroke-width="2.2" />
<line x1="891.00" y1="950.50" x2="891.00" y2="956.50" stroke="#000" stroke-width="2.2" />
<text x="734.80" y="971.50" font-size="15.3" font-weight="bold" text-anchor="middle" >Day 3</text>
<text x="891.20" y="971.50" font-size="15.3" font-weight="bold" text-anchor="middle" >Euthanasia</text>
<text transform="translate(630.20,846.10) rotate(-90) scale(1.06,1)" font-size="15.75" font-weight="bold" text-anchor="middle">Score</text>
</svg></body></html>
